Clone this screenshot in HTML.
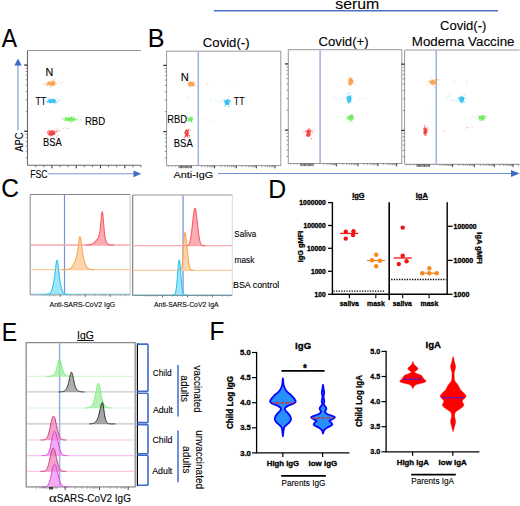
<!DOCTYPE html>
<html><head><meta charset="utf-8"><style>
html,body{margin:0;padding:0;background:#fff;width:520px;height:506px;overflow:hidden}
svg{display:block;font-family:"Liberation Sans", sans-serif}
text{stroke:#000;stroke-width:0.1px}
text[font-weight="bold"]{stroke-width:0.3px}
</style></head><body>
<svg width="520" height="506" viewBox="0 0 520 506">
<rect width="520" height="506" fill="#fff"/>
<text x="1.69" y="46.80" font-size="26" textLength="15.30" lengthAdjust="spacingAndGlyphs" fill="#000" >A</text>
<line x1="27.5" y1="50.5" x2="141" y2="50.5" stroke="#9a9a9a" stroke-width="1" />
<line x1="27.5" y1="50.5" x2="27.5" y2="165.3" stroke="#6a6a6a" stroke-width="1.1" />
<line x1="27.5" y1="165.3" x2="141" y2="165.3" stroke="#6a6a6a" stroke-width="1.1" />
<line x1="24.2" y1="65.1" x2="27.5" y2="65.1" stroke="#333" stroke-width="1.3" />
<line x1="24.2" y1="131.3" x2="27.5" y2="131.3" stroke="#333" stroke-width="1.3" />
<line x1="25.7" y1="111.37" x2="27.5" y2="111.37" stroke="#666" stroke-width="0.7" />
<line x1="25.7" y1="99.71" x2="27.5" y2="99.71" stroke="#666" stroke-width="0.7" />
<line x1="25.7" y1="91.44" x2="27.5" y2="91.44" stroke="#666" stroke-width="0.7" />
<line x1="25.7" y1="85.03" x2="27.5" y2="85.03" stroke="#666" stroke-width="0.7" />
<line x1="25.7" y1="79.79" x2="27.5" y2="79.79" stroke="#666" stroke-width="0.7" />
<line x1="25.7" y1="75.35" x2="27.5" y2="75.35" stroke="#666" stroke-width="0.7" />
<line x1="25.7" y1="71.52" x2="27.5" y2="71.52" stroke="#666" stroke-width="0.7" />
<line x1="25.7" y1="68.13" x2="27.5" y2="68.13" stroke="#666" stroke-width="0.7" />
<line x1="25.7" y1="157.64" x2="27.5" y2="157.64" stroke="#666" stroke-width="0.7" />
<line x1="25.7" y1="151.23" x2="27.5" y2="151.23" stroke="#666" stroke-width="0.7" />
<line x1="25.7" y1="145.99" x2="27.5" y2="145.99" stroke="#666" stroke-width="0.7" />
<line x1="25.7" y1="141.55" x2="27.5" y2="141.55" stroke="#666" stroke-width="0.7" />
<line x1="25.7" y1="137.72" x2="27.5" y2="137.72" stroke="#666" stroke-width="0.7" />
<line x1="25.7" y1="134.33" x2="27.5" y2="134.33" stroke="#666" stroke-width="0.7" />
<line x1="35.7" y1="165.3" x2="35.7" y2="167.3" stroke="#555" stroke-width="0.8" />
<line x1="43.8" y1="165.3" x2="43.8" y2="167.3" stroke="#555" stroke-width="0.8" />
<line x1="51.9" y1="165.3" x2="51.9" y2="168.3" stroke="#333" stroke-width="1" />
<line x1="60" y1="165.3" x2="60" y2="167.3" stroke="#555" stroke-width="0.8" />
<line x1="68.1" y1="165.3" x2="68.1" y2="167.3" stroke="#555" stroke-width="0.8" />
<line x1="76.2" y1="165.3" x2="76.2" y2="168.3" stroke="#333" stroke-width="1" />
<line x1="84.3" y1="165.3" x2="84.3" y2="167.3" stroke="#555" stroke-width="0.8" />
<line x1="92.4" y1="165.3" x2="92.4" y2="167.3" stroke="#555" stroke-width="0.8" />
<line x1="100.5" y1="165.3" x2="100.5" y2="168.3" stroke="#333" stroke-width="1" />
<line x1="108.6" y1="165.3" x2="108.6" y2="167.3" stroke="#555" stroke-width="0.8" />
<line x1="116.7" y1="165.3" x2="116.7" y2="167.3" stroke="#555" stroke-width="0.8" />
<line x1="124.8" y1="165.3" x2="124.8" y2="168.3" stroke="#333" stroke-width="1" />
<line x1="132.9" y1="165.3" x2="132.9" y2="167.3" stroke="#555" stroke-width="0.8" />
<line x1="141" y1="165.3" x2="141" y2="167.3" stroke="#555" stroke-width="0.8" />
<line x1="18" y1="130.2" x2="18" y2="64" stroke="#a4b8e6" stroke-width="1.6" />
<path d="M14.4 65.5 L18 58.4 L21.6 65.5 Z" fill="#3f6bc6"/>
<text x="23.40" y="151.77" font-size="10.4" textLength="19.26" lengthAdjust="spacingAndGlyphs" transform="rotate(-90 23.40 151.77)" fill="#000" >APC</text>
<text x="30.13" y="178.00" font-size="10.4" textLength="17.34" lengthAdjust="spacingAndGlyphs" fill="#000" >FSC</text>
<line x1="47.8" y1="173.8" x2="135" y2="173.8" stroke="#7a98d8" stroke-width="1.1" />
<path d="M133.5 170.4 L141.2 173.8 L133.5 177.2 Z" fill="#3f6bc6"/>
<text x="45.56" y="76.40" font-size="10" textLength="7.77" lengthAdjust="spacingAndGlyphs" fill="#000" >N</text>
<text x="35.45" y="104.80" font-size="10" textLength="10.71" lengthAdjust="spacingAndGlyphs" fill="#000" >TT</text>
<text x="84.96" y="124.90" font-size="10.2" textLength="20.24" lengthAdjust="spacingAndGlyphs" fill="#000" >RBD</text>
<text x="43.08" y="145.50" font-size="10.2" textLength="18.68" lengthAdjust="spacingAndGlyphs" fill="#000" >BSA</text>
<path d="M58.0 80.5h0.9v0.9h-0.9zM59.5 83.5h0.9v0.9h-0.9zM62.0 82.0h0.9v0.9h-0.9zM55.5 79.0h0.9v0.9h-0.9zM45.0 83.5h0.9v0.9h-0.9z" fill="#f7963a" opacity="0.5"/>
<ellipse cx="51.6" cy="83.5" rx="3.64" ry="2.10" fill="#f7963a" opacity="0.7"/>
<path d="M51.7 85.4h1v1h-1zM51.2 83.5h1v1h-1zM51.2 83.7h1v1h-1zM53.0 83.7h1v1h-1zM54.2 84.1h1v1h-1zM52.6 83.7h1v1h-1zM46.3 83.2h1v1h-1zM48.0 81.5h1v1h-1zM50.7 82.7h1v1h-1zM47.2 82.7h1v1h-1zM52.7 82.8h1v1h-1zM54.5 84.2h1v1h-1zM48.4 81.8h1v1h-1zM53.7 82.4h1v1h-1zM45.9 85.6h1v1h-1zM53.0 83.0h1v1h-1zM43.6 83.8h1v1h-1zM46.9 83.7h1v1h-1zM51.0 83.7h1v1h-1zM47.3 81.6h1v1h-1zM47.9 83.3h1v1h-1zM48.0 84.3h1v1h-1zM52.5 80.8h1v1h-1zM48.3 81.7h1v1h-1zM51.9 81.7h1v1h-1zM51.8 84.5h1v1h-1zM50.3 82.4h1v1h-1zM51.6 84.2h1v1h-1zM50.0 84.2h1v1h-1zM47.1 83.5h1v1h-1zM52.1 82.3h1v1h-1zM55.6 82.9h1v1h-1zM54.7 81.2h1v1h-1zM48.6 81.2h1v1h-1zM52.8 82.6h1v1h-1zM53.8 81.6h1v1h-1zM53.1 81.6h1v1h-1zM49.2 82.3h1v1h-1zM53.3 80.5h1v1h-1zM51.7 85.0h1v1h-1zM49.9 86.5h1v1h-1zM50.6 80.5h1v1h-1zM49.8 83.4h1v1h-1zM49.7 85.2h1v1h-1zM48.8 81.0h1v1h-1zM46.4 83.8h1v1h-1zM53.4 82.0h1v1h-1zM54.2 83.9h1v1h-1zM54.7 81.5h1v1h-1zM52.7 79.6h1v1h-1zM52.9 85.3h1v1h-1zM46.9 84.4h1v1h-1zM47.7 82.0h1v1h-1z" fill="#f7963a" opacity="0.75"/>
<path d="M46.0 97.0h0.9v0.9h-0.9zM56.5 97.5h0.9v0.9h-0.9zM55.5 104.0h0.9v0.9h-0.9zM48.5 98.0h0.9v0.9h-0.9z" fill="#22b8f4" opacity="0.5"/>
<ellipse cx="51.6" cy="101" rx="3.64" ry="1.96" fill="#22b8f4" opacity="0.7"/>
<path d="M51.9 101.1h1v1h-1zM54.9 101.7h1v1h-1zM53.4 100.9h1v1h-1zM52.1 100.4h1v1h-1zM53.1 100.5h1v1h-1zM52.9 100.0h1v1h-1zM49.1 101.4h1v1h-1zM52.7 100.2h1v1h-1zM49.2 102.4h1v1h-1zM50.4 102.1h1v1h-1zM53.1 99.5h1v1h-1zM49.3 98.6h1v1h-1zM54.4 102.4h1v1h-1zM53.2 100.1h1v1h-1zM50.6 99.3h1v1h-1zM50.3 101.2h1v1h-1zM49.3 102.3h1v1h-1zM50.1 100.7h1v1h-1zM53.2 100.9h1v1h-1zM47.5 100.3h1v1h-1zM54.4 99.1h1v1h-1zM46.6 101.2h1v1h-1zM52.4 101.3h1v1h-1zM55.1 99.9h1v1h-1zM50.9 98.8h1v1h-1zM50.8 101.6h1v1h-1zM48.9 99.7h1v1h-1zM47.4 100.2h1v1h-1zM47.3 102.1h1v1h-1zM56.5 102.3h1v1h-1zM53.2 101.7h1v1h-1zM53.3 99.7h1v1h-1zM54.8 102.1h1v1h-1zM47.2 101.0h1v1h-1zM53.3 102.2h1v1h-1zM50.7 99.5h1v1h-1zM58.6 100.0h1v1h-1zM54.0 99.5h1v1h-1zM52.7 99.4h1v1h-1zM50.5 100.8h1v1h-1zM50.4 100.5h1v1h-1zM55.6 101.5h1v1h-1zM49.5 102.0h1v1h-1zM47.6 100.6h1v1h-1zM53.3 98.6h1v1h-1zM44.4 100.7h1v1h-1zM48.3 100.6h1v1h-1zM53.4 101.2h1v1h-1zM54.5 100.8h1v1h-1zM49.9 102.3h1v1h-1z" fill="#22b8f4" opacity="0.75"/>
<path d="M61.0 117.5h0.9v0.9h-0.9zM78.0 116.5h0.9v0.9h-0.9zM78.5 120.0h0.9v0.9h-0.9zM68.5 115.0h0.9v0.9h-0.9z" fill="#5ee64a" opacity="0.5"/>
<ellipse cx="70.4" cy="119.1" rx="5.32" ry="1.68" fill="#5ee64a" opacity="0.7"/>
<path d="M71.9 121.0h1v1h-1zM64.8 118.4h1v1h-1zM70.4 118.6h1v1h-1zM80.3 119.2h1v1h-1zM68.5 120.0h1v1h-1zM69.8 119.5h1v1h-1zM70.5 118.2h1v1h-1zM72.7 118.1h1v1h-1zM64.5 118.3h1v1h-1zM73.6 117.8h1v1h-1zM65.4 119.1h1v1h-1zM74.7 120.2h1v1h-1zM65.5 117.4h1v1h-1zM68.3 119.7h1v1h-1zM75.0 119.9h1v1h-1zM70.1 117.5h1v1h-1zM70.3 118.3h1v1h-1zM68.6 118.7h1v1h-1zM65.6 119.2h1v1h-1zM62.2 118.1h1v1h-1zM71.7 117.9h1v1h-1zM73.1 116.1h1v1h-1zM67.2 120.5h1v1h-1zM64.6 117.4h1v1h-1zM69.8 119.2h1v1h-1zM63.7 119.7h1v1h-1zM68.5 119.4h1v1h-1zM65.6 119.4h1v1h-1zM71.8 118.5h1v1h-1zM73.6 118.6h1v1h-1zM70.5 119.0h1v1h-1zM63.2 118.8h1v1h-1zM70.9 117.0h1v1h-1zM65.6 120.2h1v1h-1zM71.5 118.4h1v1h-1zM76.4 118.4h1v1h-1zM67.8 119.9h1v1h-1zM68.9 119.1h1v1h-1zM72.8 120.2h1v1h-1zM69.2 119.7h1v1h-1zM65.5 117.1h1v1h-1zM74.3 119.5h1v1h-1zM67.1 117.7h1v1h-1zM70.0 120.8h1v1h-1zM69.4 121.4h1v1h-1zM71.2 116.3h1v1h-1zM72.7 119.8h1v1h-1zM64.6 119.7h1v1h-1zM67.6 118.5h1v1h-1zM67.8 119.2h1v1h-1zM71.0 121.6h1v1h-1zM66.8 120.2h1v1h-1zM70.4 118.1h1v1h-1zM66.0 117.1h1v1h-1zM70.8 118.6h1v1h-1zM69.7 117.6h1v1h-1zM68.1 116.8h1v1h-1zM75.8 118.8h1v1h-1zM76.6 118.9h1v1h-1zM65.2 116.9h1v1h-1zM71.3 119.8h1v1h-1zM69.5 117.1h1v1h-1zM71.5 116.6h1v1h-1z" fill="#5ee64a" opacity="0.75"/>
<path d="M56.5 128.6h0.9v0.9h-0.9zM58.5 129.6h0.9v0.9h-0.9zM62.5 128.1h0.9v0.9h-0.9zM65.5 127.5h0.9v0.9h-0.9zM67.5 128.1h0.9v0.9h-0.9zM59.5 130.6h0.9v0.9h-0.9zM56.0 136.6h0.9v0.9h-0.9zM57.5 135.1h0.9v0.9h-0.9z" fill="#f02c2c" opacity="0.5"/>
<ellipse cx="51.9" cy="133" rx="3.36" ry="2.38" fill="#f02c2c" opacity="0.7"/>
<path d="M48.7 133.5h1v1h-1zM50.2 131.1h1v1h-1zM49.5 132.0h1v1h-1zM51.3 132.8h1v1h-1zM53.7 131.8h1v1h-1zM51.4 131.9h1v1h-1zM52.3 132.3h1v1h-1zM48.8 133.4h1v1h-1zM51.5 134.7h1v1h-1zM50.9 130.5h1v1h-1zM52.8 130.3h1v1h-1zM52.5 132.2h1v1h-1zM47.3 132.7h1v1h-1zM50.9 133.6h1v1h-1zM49.2 133.0h1v1h-1zM53.9 132.7h1v1h-1zM55.3 131.6h1v1h-1zM54.0 133.3h1v1h-1zM49.3 133.7h1v1h-1zM52.2 133.4h1v1h-1zM52.1 133.8h1v1h-1zM55.9 130.6h1v1h-1zM47.4 131.0h1v1h-1zM52.5 129.9h1v1h-1zM53.0 132.8h1v1h-1zM49.4 134.0h1v1h-1zM50.0 134.1h1v1h-1zM52.5 132.9h1v1h-1zM48.3 130.4h1v1h-1zM50.7 130.9h1v1h-1zM48.9 134.4h1v1h-1zM50.0 134.5h1v1h-1zM53.7 131.6h1v1h-1zM52.0 132.4h1v1h-1zM50.1 135.4h1v1h-1zM48.8 133.5h1v1h-1zM49.6 134.0h1v1h-1zM51.1 133.5h1v1h-1zM53.5 131.6h1v1h-1zM53.3 132.9h1v1h-1zM56.6 131.0h1v1h-1zM54.2 131.2h1v1h-1zM50.5 135.3h1v1h-1zM51.4 134.2h1v1h-1zM50.2 131.8h1v1h-1zM48.6 132.9h1v1h-1zM46.8 131.6h1v1h-1zM48.5 134.2h1v1h-1zM51.3 132.9h1v1h-1zM51.8 132.9h1v1h-1zM48.8 129.9h1v1h-1zM51.8 134.4h1v1h-1zM47.6 134.0h1v1h-1zM54.5 133.8h1v1h-1zM53.6 133.5h1v1h-1zM48.9 134.2h1v1h-1z" fill="#f02c2c" opacity="0.75"/>
<text x="147.87" y="46.80" font-size="26" textLength="16.78" lengthAdjust="spacingAndGlyphs" fill="#000" >B</text>
<line x1="213.8" y1="10.8" x2="498" y2="10.8" stroke="#4a72c4" stroke-width="1.4" />
<text x="335.21" y="9.20" font-size="15.2" textLength="44.08" lengthAdjust="spacingAndGlyphs" fill="#000" >serum</text>
<rect x="166.6" y="51.2" width="114.20000000000002" height="114.39999999999999" fill="none" stroke="#9a9a9a" stroke-width="1" />
<line x1="198.3" y1="51.7" x2="198.3" y2="165.1" stroke="#9cb2e2" stroke-width="1.5" />
<line x1="163.3" y1="65.4" x2="166.6" y2="65.4" stroke="#333" stroke-width="1.3" />
<line x1="163.3" y1="131.6" x2="166.6" y2="131.6" stroke="#333" stroke-width="1.3" />
<line x1="164.8" y1="111.67" x2="166.6" y2="111.67" stroke="#666" stroke-width="0.7" />
<line x1="164.8" y1="100.01" x2="166.6" y2="100.01" stroke="#666" stroke-width="0.7" />
<line x1="164.8" y1="91.74" x2="166.6" y2="91.74" stroke="#666" stroke-width="0.7" />
<line x1="164.8" y1="85.33" x2="166.6" y2="85.33" stroke="#666" stroke-width="0.7" />
<line x1="164.8" y1="80.09" x2="166.6" y2="80.09" stroke="#666" stroke-width="0.7" />
<line x1="164.8" y1="75.65" x2="166.6" y2="75.65" stroke="#666" stroke-width="0.7" />
<line x1="164.8" y1="71.82" x2="166.6" y2="71.82" stroke="#666" stroke-width="0.7" />
<line x1="164.8" y1="68.43" x2="166.6" y2="68.43" stroke="#666" stroke-width="0.7" />
<line x1="164.8" y1="157.94" x2="166.6" y2="157.94" stroke="#666" stroke-width="0.7" />
<line x1="164.8" y1="151.53" x2="166.6" y2="151.53" stroke="#666" stroke-width="0.7" />
<line x1="164.8" y1="146.29" x2="166.6" y2="146.29" stroke="#666" stroke-width="0.7" />
<line x1="164.8" y1="141.85" x2="166.6" y2="141.85" stroke="#666" stroke-width="0.7" />
<line x1="164.8" y1="138.02" x2="166.6" y2="138.02" stroke="#666" stroke-width="0.7" />
<line x1="164.8" y1="134.63" x2="166.6" y2="134.63" stroke="#666" stroke-width="0.7" />
<line x1="168.6" y1="165.6" x2="168.6" y2="167.2" stroke="#999" stroke-width="0.6" />
<line x1="172.1" y1="165.6" x2="172.1" y2="167.2" stroke="#999" stroke-width="0.6" />
<line x1="175.6" y1="165.6" x2="175.6" y2="167.2" stroke="#999" stroke-width="0.6" />
<line x1="179" y1="165.6" x2="179" y2="168.2" stroke="#222" stroke-width="0.7" />
<line x1="180.25" y1="165.6" x2="180.25" y2="168.2" stroke="#222" stroke-width="0.7" />
<line x1="181.5" y1="165.6" x2="181.5" y2="168.2" stroke="#222" stroke-width="0.7" />
<line x1="182.75" y1="165.6" x2="182.75" y2="168.2" stroke="#222" stroke-width="0.7" />
<line x1="184" y1="165.6" x2="184" y2="168.2" stroke="#222" stroke-width="0.7" />
<line x1="185.25" y1="165.6" x2="185.25" y2="168.2" stroke="#222" stroke-width="0.7" />
<line x1="186.5" y1="165.6" x2="186.5" y2="168.2" stroke="#222" stroke-width="0.7" />
<line x1="187.75" y1="165.6" x2="187.75" y2="168.2" stroke="#222" stroke-width="0.7" />
<line x1="189" y1="165.6" x2="189" y2="168.2" stroke="#222" stroke-width="0.7" />
<line x1="190.25" y1="165.6" x2="190.25" y2="168.2" stroke="#222" stroke-width="0.7" />
<line x1="191.5" y1="165.6" x2="191.5" y2="168.2" stroke="#222" stroke-width="0.7" />
<line x1="214.6" y1="165.6" x2="214.6" y2="168.4" stroke="#222" stroke-width="0.9" />
<line x1="236.3" y1="165.6" x2="236.3" y2="168.4" stroke="#222" stroke-width="0.9" />
<line x1="256.3" y1="165.6" x2="256.3" y2="168.4" stroke="#222" stroke-width="0.9" />
<line x1="275" y1="165.6" x2="275" y2="168.4" stroke="#222" stroke-width="0.9" />
<line x1="202.02" y1="165.6" x2="202.02" y2="167.3" stroke="#666" stroke-width="0.6" />
<line x1="205.19" y1="165.6" x2="205.19" y2="167.3" stroke="#666" stroke-width="0.6" />
<line x1="207.44" y1="165.6" x2="207.44" y2="167.3" stroke="#666" stroke-width="0.6" />
<line x1="209.18" y1="165.6" x2="209.18" y2="167.3" stroke="#666" stroke-width="0.6" />
<line x1="210.61" y1="165.6" x2="210.61" y2="167.3" stroke="#666" stroke-width="0.6" />
<line x1="211.81" y1="165.6" x2="211.81" y2="167.3" stroke="#666" stroke-width="0.6" />
<line x1="212.86" y1="165.6" x2="212.86" y2="167.3" stroke="#666" stroke-width="0.6" />
<line x1="213.78" y1="165.6" x2="213.78" y2="167.3" stroke="#666" stroke-width="0.6" />
<line x1="221.13" y1="165.6" x2="221.13" y2="167.3" stroke="#666" stroke-width="0.6" />
<line x1="224.95" y1="165.6" x2="224.95" y2="167.3" stroke="#666" stroke-width="0.6" />
<line x1="227.66" y1="165.6" x2="227.66" y2="167.3" stroke="#666" stroke-width="0.6" />
<line x1="229.77" y1="165.6" x2="229.77" y2="167.3" stroke="#666" stroke-width="0.6" />
<line x1="231.49" y1="165.6" x2="231.49" y2="167.3" stroke="#666" stroke-width="0.6" />
<line x1="232.94" y1="165.6" x2="232.94" y2="167.3" stroke="#666" stroke-width="0.6" />
<line x1="234.2" y1="165.6" x2="234.2" y2="167.3" stroke="#666" stroke-width="0.6" />
<line x1="235.31" y1="165.6" x2="235.31" y2="167.3" stroke="#666" stroke-width="0.6" />
<line x1="242.32" y1="165.6" x2="242.32" y2="167.3" stroke="#666" stroke-width="0.6" />
<line x1="245.84" y1="165.6" x2="245.84" y2="167.3" stroke="#666" stroke-width="0.6" />
<line x1="248.34" y1="165.6" x2="248.34" y2="167.3" stroke="#666" stroke-width="0.6" />
<line x1="250.28" y1="165.6" x2="250.28" y2="167.3" stroke="#666" stroke-width="0.6" />
<line x1="251.86" y1="165.6" x2="251.86" y2="167.3" stroke="#666" stroke-width="0.6" />
<line x1="253.2" y1="165.6" x2="253.2" y2="167.3" stroke="#666" stroke-width="0.6" />
<line x1="254.36" y1="165.6" x2="254.36" y2="167.3" stroke="#666" stroke-width="0.6" />
<line x1="255.38" y1="165.6" x2="255.38" y2="167.3" stroke="#666" stroke-width="0.6" />
<line x1="261.93" y1="165.6" x2="261.93" y2="167.3" stroke="#666" stroke-width="0.6" />
<line x1="265.22" y1="165.6" x2="265.22" y2="167.3" stroke="#666" stroke-width="0.6" />
<line x1="267.56" y1="165.6" x2="267.56" y2="167.3" stroke="#666" stroke-width="0.6" />
<line x1="269.37" y1="165.6" x2="269.37" y2="167.3" stroke="#666" stroke-width="0.6" />
<line x1="270.85" y1="165.6" x2="270.85" y2="167.3" stroke="#666" stroke-width="0.6" />
<line x1="272.1" y1="165.6" x2="272.1" y2="167.3" stroke="#666" stroke-width="0.6" />
<line x1="273.19" y1="165.6" x2="273.19" y2="167.3" stroke="#666" stroke-width="0.6" />
<line x1="274.14" y1="165.6" x2="274.14" y2="167.3" stroke="#666" stroke-width="0.6" />
<rect x="288.3" y="49.7" width="113.5" height="113.8" fill="none" stroke="#9a9a9a" stroke-width="1" />
<line x1="320.1" y1="50.2" x2="320.1" y2="163" stroke="#9cb2e2" stroke-width="1.5" />
<line x1="285" y1="63.9" x2="288.3" y2="63.9" stroke="#333" stroke-width="1.3" />
<line x1="285" y1="130.1" x2="288.3" y2="130.1" stroke="#333" stroke-width="1.3" />
<line x1="286.5" y1="110.17" x2="288.3" y2="110.17" stroke="#666" stroke-width="0.7" />
<line x1="286.5" y1="98.51" x2="288.3" y2="98.51" stroke="#666" stroke-width="0.7" />
<line x1="286.5" y1="90.24" x2="288.3" y2="90.24" stroke="#666" stroke-width="0.7" />
<line x1="286.5" y1="83.83" x2="288.3" y2="83.83" stroke="#666" stroke-width="0.7" />
<line x1="286.5" y1="78.59" x2="288.3" y2="78.59" stroke="#666" stroke-width="0.7" />
<line x1="286.5" y1="74.15" x2="288.3" y2="74.15" stroke="#666" stroke-width="0.7" />
<line x1="286.5" y1="70.32" x2="288.3" y2="70.32" stroke="#666" stroke-width="0.7" />
<line x1="286.5" y1="66.93" x2="288.3" y2="66.93" stroke="#666" stroke-width="0.7" />
<line x1="286.5" y1="156.44" x2="288.3" y2="156.44" stroke="#666" stroke-width="0.7" />
<line x1="286.5" y1="150.03" x2="288.3" y2="150.03" stroke="#666" stroke-width="0.7" />
<line x1="286.5" y1="144.79" x2="288.3" y2="144.79" stroke="#666" stroke-width="0.7" />
<line x1="286.5" y1="140.35" x2="288.3" y2="140.35" stroke="#666" stroke-width="0.7" />
<line x1="286.5" y1="136.52" x2="288.3" y2="136.52" stroke="#666" stroke-width="0.7" />
<line x1="286.5" y1="133.13" x2="288.3" y2="133.13" stroke="#666" stroke-width="0.7" />
<line x1="290.3" y1="163.5" x2="290.3" y2="165.1" stroke="#999" stroke-width="0.6" />
<line x1="293.8" y1="163.5" x2="293.8" y2="165.1" stroke="#999" stroke-width="0.6" />
<line x1="297.3" y1="163.5" x2="297.3" y2="165.1" stroke="#999" stroke-width="0.6" />
<line x1="300.7" y1="163.5" x2="300.7" y2="166.1" stroke="#222" stroke-width="0.7" />
<line x1="301.95" y1="163.5" x2="301.95" y2="166.1" stroke="#222" stroke-width="0.7" />
<line x1="303.2" y1="163.5" x2="303.2" y2="166.1" stroke="#222" stroke-width="0.7" />
<line x1="304.45" y1="163.5" x2="304.45" y2="166.1" stroke="#222" stroke-width="0.7" />
<line x1="305.7" y1="163.5" x2="305.7" y2="166.1" stroke="#222" stroke-width="0.7" />
<line x1="306.95" y1="163.5" x2="306.95" y2="166.1" stroke="#222" stroke-width="0.7" />
<line x1="308.2" y1="163.5" x2="308.2" y2="166.1" stroke="#222" stroke-width="0.7" />
<line x1="309.45" y1="163.5" x2="309.45" y2="166.1" stroke="#222" stroke-width="0.7" />
<line x1="310.7" y1="163.5" x2="310.7" y2="166.1" stroke="#222" stroke-width="0.7" />
<line x1="311.95" y1="163.5" x2="311.95" y2="166.1" stroke="#222" stroke-width="0.7" />
<line x1="313.2" y1="163.5" x2="313.2" y2="166.1" stroke="#222" stroke-width="0.7" />
<line x1="336.3" y1="163.5" x2="336.3" y2="166.3" stroke="#222" stroke-width="0.9" />
<line x1="358" y1="163.5" x2="358" y2="166.3" stroke="#222" stroke-width="0.9" />
<line x1="378" y1="163.5" x2="378" y2="166.3" stroke="#222" stroke-width="0.9" />
<line x1="396.7" y1="163.5" x2="396.7" y2="166.3" stroke="#222" stroke-width="0.9" />
<line x1="323.72" y1="163.5" x2="323.72" y2="165.2" stroke="#666" stroke-width="0.6" />
<line x1="326.89" y1="163.5" x2="326.89" y2="165.2" stroke="#666" stroke-width="0.6" />
<line x1="329.14" y1="163.5" x2="329.14" y2="165.2" stroke="#666" stroke-width="0.6" />
<line x1="330.88" y1="163.5" x2="330.88" y2="165.2" stroke="#666" stroke-width="0.6" />
<line x1="332.31" y1="163.5" x2="332.31" y2="165.2" stroke="#666" stroke-width="0.6" />
<line x1="333.51" y1="163.5" x2="333.51" y2="165.2" stroke="#666" stroke-width="0.6" />
<line x1="334.56" y1="163.5" x2="334.56" y2="165.2" stroke="#666" stroke-width="0.6" />
<line x1="335.48" y1="163.5" x2="335.48" y2="165.2" stroke="#666" stroke-width="0.6" />
<line x1="342.83" y1="163.5" x2="342.83" y2="165.2" stroke="#666" stroke-width="0.6" />
<line x1="346.65" y1="163.5" x2="346.65" y2="165.2" stroke="#666" stroke-width="0.6" />
<line x1="349.36" y1="163.5" x2="349.36" y2="165.2" stroke="#666" stroke-width="0.6" />
<line x1="351.47" y1="163.5" x2="351.47" y2="165.2" stroke="#666" stroke-width="0.6" />
<line x1="353.19" y1="163.5" x2="353.19" y2="165.2" stroke="#666" stroke-width="0.6" />
<line x1="354.64" y1="163.5" x2="354.64" y2="165.2" stroke="#666" stroke-width="0.6" />
<line x1="355.9" y1="163.5" x2="355.9" y2="165.2" stroke="#666" stroke-width="0.6" />
<line x1="357.01" y1="163.5" x2="357.01" y2="165.2" stroke="#666" stroke-width="0.6" />
<line x1="364.02" y1="163.5" x2="364.02" y2="165.2" stroke="#666" stroke-width="0.6" />
<line x1="367.54" y1="163.5" x2="367.54" y2="165.2" stroke="#666" stroke-width="0.6" />
<line x1="370.04" y1="163.5" x2="370.04" y2="165.2" stroke="#666" stroke-width="0.6" />
<line x1="371.98" y1="163.5" x2="371.98" y2="165.2" stroke="#666" stroke-width="0.6" />
<line x1="373.56" y1="163.5" x2="373.56" y2="165.2" stroke="#666" stroke-width="0.6" />
<line x1="374.9" y1="163.5" x2="374.9" y2="165.2" stroke="#666" stroke-width="0.6" />
<line x1="376.06" y1="163.5" x2="376.06" y2="165.2" stroke="#666" stroke-width="0.6" />
<line x1="377.08" y1="163.5" x2="377.08" y2="165.2" stroke="#666" stroke-width="0.6" />
<line x1="383.63" y1="163.5" x2="383.63" y2="165.2" stroke="#666" stroke-width="0.6" />
<line x1="386.92" y1="163.5" x2="386.92" y2="165.2" stroke="#666" stroke-width="0.6" />
<line x1="389.26" y1="163.5" x2="389.26" y2="165.2" stroke="#666" stroke-width="0.6" />
<line x1="391.07" y1="163.5" x2="391.07" y2="165.2" stroke="#666" stroke-width="0.6" />
<line x1="392.55" y1="163.5" x2="392.55" y2="165.2" stroke="#666" stroke-width="0.6" />
<line x1="393.8" y1="163.5" x2="393.8" y2="165.2" stroke="#666" stroke-width="0.6" />
<line x1="394.89" y1="163.5" x2="394.89" y2="165.2" stroke="#666" stroke-width="0.6" />
<line x1="395.84" y1="163.5" x2="395.84" y2="165.2" stroke="#666" stroke-width="0.6" />
<line x1="404.6" y1="50" x2="519.5" y2="50" stroke="#9a9a9a" stroke-width="1" />
<line x1="404.6" y1="50" x2="404.6" y2="164.3" stroke="#9a9a9a" stroke-width="1" />
<line x1="404.6" y1="164.3" x2="519.5" y2="164.3" stroke="#888" stroke-width="1" />
<line x1="436.2" y1="50.5" x2="436.2" y2="163.8" stroke="#9cb2e2" stroke-width="1.5" />
<line x1="401.3" y1="64.2" x2="404.6" y2="64.2" stroke="#333" stroke-width="1.3" />
<line x1="401.3" y1="130.4" x2="404.6" y2="130.4" stroke="#333" stroke-width="1.3" />
<line x1="402.8" y1="110.47" x2="404.6" y2="110.47" stroke="#666" stroke-width="0.7" />
<line x1="402.8" y1="98.81" x2="404.6" y2="98.81" stroke="#666" stroke-width="0.7" />
<line x1="402.8" y1="90.54" x2="404.6" y2="90.54" stroke="#666" stroke-width="0.7" />
<line x1="402.8" y1="84.13" x2="404.6" y2="84.13" stroke="#666" stroke-width="0.7" />
<line x1="402.8" y1="78.89" x2="404.6" y2="78.89" stroke="#666" stroke-width="0.7" />
<line x1="402.8" y1="74.45" x2="404.6" y2="74.45" stroke="#666" stroke-width="0.7" />
<line x1="402.8" y1="70.62" x2="404.6" y2="70.62" stroke="#666" stroke-width="0.7" />
<line x1="402.8" y1="67.23" x2="404.6" y2="67.23" stroke="#666" stroke-width="0.7" />
<line x1="402.8" y1="156.74" x2="404.6" y2="156.74" stroke="#666" stroke-width="0.7" />
<line x1="402.8" y1="150.33" x2="404.6" y2="150.33" stroke="#666" stroke-width="0.7" />
<line x1="402.8" y1="145.09" x2="404.6" y2="145.09" stroke="#666" stroke-width="0.7" />
<line x1="402.8" y1="140.65" x2="404.6" y2="140.65" stroke="#666" stroke-width="0.7" />
<line x1="402.8" y1="136.82" x2="404.6" y2="136.82" stroke="#666" stroke-width="0.7" />
<line x1="402.8" y1="133.43" x2="404.6" y2="133.43" stroke="#666" stroke-width="0.7" />
<line x1="406.6" y1="164.3" x2="406.6" y2="165.9" stroke="#999" stroke-width="0.6" />
<line x1="410.1" y1="164.3" x2="410.1" y2="165.9" stroke="#999" stroke-width="0.6" />
<line x1="413.6" y1="164.3" x2="413.6" y2="165.9" stroke="#999" stroke-width="0.6" />
<line x1="417" y1="164.3" x2="417" y2="166.9" stroke="#222" stroke-width="0.7" />
<line x1="418.25" y1="164.3" x2="418.25" y2="166.9" stroke="#222" stroke-width="0.7" />
<line x1="419.5" y1="164.3" x2="419.5" y2="166.9" stroke="#222" stroke-width="0.7" />
<line x1="420.75" y1="164.3" x2="420.75" y2="166.9" stroke="#222" stroke-width="0.7" />
<line x1="422" y1="164.3" x2="422" y2="166.9" stroke="#222" stroke-width="0.7" />
<line x1="423.25" y1="164.3" x2="423.25" y2="166.9" stroke="#222" stroke-width="0.7" />
<line x1="424.5" y1="164.3" x2="424.5" y2="166.9" stroke="#222" stroke-width="0.7" />
<line x1="425.75" y1="164.3" x2="425.75" y2="166.9" stroke="#222" stroke-width="0.7" />
<line x1="427" y1="164.3" x2="427" y2="166.9" stroke="#222" stroke-width="0.7" />
<line x1="428.25" y1="164.3" x2="428.25" y2="166.9" stroke="#222" stroke-width="0.7" />
<line x1="429.5" y1="164.3" x2="429.5" y2="166.9" stroke="#222" stroke-width="0.7" />
<line x1="452.6" y1="164.3" x2="452.6" y2="167.1" stroke="#222" stroke-width="0.9" />
<line x1="474.3" y1="164.3" x2="474.3" y2="167.1" stroke="#222" stroke-width="0.9" />
<line x1="494.3" y1="164.3" x2="494.3" y2="167.1" stroke="#222" stroke-width="0.9" />
<line x1="513" y1="164.3" x2="513" y2="167.1" stroke="#222" stroke-width="0.9" />
<line x1="440.02" y1="164.3" x2="440.02" y2="166" stroke="#666" stroke-width="0.6" />
<line x1="443.19" y1="164.3" x2="443.19" y2="166" stroke="#666" stroke-width="0.6" />
<line x1="445.44" y1="164.3" x2="445.44" y2="166" stroke="#666" stroke-width="0.6" />
<line x1="447.18" y1="164.3" x2="447.18" y2="166" stroke="#666" stroke-width="0.6" />
<line x1="448.61" y1="164.3" x2="448.61" y2="166" stroke="#666" stroke-width="0.6" />
<line x1="449.81" y1="164.3" x2="449.81" y2="166" stroke="#666" stroke-width="0.6" />
<line x1="450.86" y1="164.3" x2="450.86" y2="166" stroke="#666" stroke-width="0.6" />
<line x1="451.78" y1="164.3" x2="451.78" y2="166" stroke="#666" stroke-width="0.6" />
<line x1="459.13" y1="164.3" x2="459.13" y2="166" stroke="#666" stroke-width="0.6" />
<line x1="462.95" y1="164.3" x2="462.95" y2="166" stroke="#666" stroke-width="0.6" />
<line x1="465.66" y1="164.3" x2="465.66" y2="166" stroke="#666" stroke-width="0.6" />
<line x1="467.77" y1="164.3" x2="467.77" y2="166" stroke="#666" stroke-width="0.6" />
<line x1="469.49" y1="164.3" x2="469.49" y2="166" stroke="#666" stroke-width="0.6" />
<line x1="470.94" y1="164.3" x2="470.94" y2="166" stroke="#666" stroke-width="0.6" />
<line x1="472.2" y1="164.3" x2="472.2" y2="166" stroke="#666" stroke-width="0.6" />
<line x1="473.31" y1="164.3" x2="473.31" y2="166" stroke="#666" stroke-width="0.6" />
<line x1="480.32" y1="164.3" x2="480.32" y2="166" stroke="#666" stroke-width="0.6" />
<line x1="483.84" y1="164.3" x2="483.84" y2="166" stroke="#666" stroke-width="0.6" />
<line x1="486.34" y1="164.3" x2="486.34" y2="166" stroke="#666" stroke-width="0.6" />
<line x1="488.28" y1="164.3" x2="488.28" y2="166" stroke="#666" stroke-width="0.6" />
<line x1="489.86" y1="164.3" x2="489.86" y2="166" stroke="#666" stroke-width="0.6" />
<line x1="491.2" y1="164.3" x2="491.2" y2="166" stroke="#666" stroke-width="0.6" />
<line x1="492.36" y1="164.3" x2="492.36" y2="166" stroke="#666" stroke-width="0.6" />
<line x1="493.38" y1="164.3" x2="493.38" y2="166" stroke="#666" stroke-width="0.6" />
<line x1="499.93" y1="164.3" x2="499.93" y2="166" stroke="#666" stroke-width="0.6" />
<line x1="503.22" y1="164.3" x2="503.22" y2="166" stroke="#666" stroke-width="0.6" />
<line x1="505.56" y1="164.3" x2="505.56" y2="166" stroke="#666" stroke-width="0.6" />
<line x1="507.37" y1="164.3" x2="507.37" y2="166" stroke="#666" stroke-width="0.6" />
<line x1="508.85" y1="164.3" x2="508.85" y2="166" stroke="#666" stroke-width="0.6" />
<line x1="510.1" y1="164.3" x2="510.1" y2="166" stroke="#666" stroke-width="0.6" />
<line x1="511.19" y1="164.3" x2="511.19" y2="166" stroke="#666" stroke-width="0.6" />
<line x1="512.14" y1="164.3" x2="512.14" y2="166" stroke="#666" stroke-width="0.6" />
<line x1="518.6" y1="164.3" x2="518.6" y2="166" stroke="#666" stroke-width="0.6" />
<text x="202.89" y="47.20" font-size="12" textLength="46.65" lengthAdjust="spacingAndGlyphs" fill="#000" >Covid(-)</text>
<text x="318.59" y="46.20" font-size="12" textLength="49.97" lengthAdjust="spacingAndGlyphs" fill="#000" >Covid(+)</text>
<text x="440.00" y="29.50" font-size="12" textLength="46.34" lengthAdjust="spacingAndGlyphs" fill="#000" >Covid(-)</text>
<text x="411.85" y="46.20" font-size="12" textLength="102.67" lengthAdjust="spacingAndGlyphs" fill="#000" >Moderna Vaccine</text>
<text x="173.42" y="178.00" font-size="9.6" textLength="39.95" lengthAdjust="spacingAndGlyphs" fill="#000" >Anti-IgG</text>
<line x1="218" y1="173.5" x2="512" y2="173.5" stroke="#6f8fd0" stroke-width="1.1" />
<path d="M511 169.9 L519.6 173.5 L511 177.1 Z" fill="#3f6bc6"/>
<path d="M195.1 81.5h0.9v0.9h-0.9zM195.6 85.5h0.9v0.9h-0.9zM206.6 83.5h0.9v0.9h-0.9zM207.6 83.0h0.9v0.9h-0.9zM231.6 85.0h0.9v0.9h-0.9zM186.6 80.5h0.9v0.9h-0.9z" fill="#f7963a" opacity="0.5"/>
<ellipse cx="191.1" cy="84.2" rx="2.69" ry="2.09" fill="#f7963a" opacity="0.7"/>
<path d="M192.5 83.1h1v1h-1zM194.0 84.7h1v1h-1zM190.9 85.0h1v1h-1zM192.4 82.9h1v1h-1zM188.6 81.0h1v1h-1zM192.7 80.9h1v1h-1zM189.0 82.2h1v1h-1zM191.3 82.2h1v1h-1zM188.0 85.1h1v1h-1zM189.7 84.4h1v1h-1zM190.1 82.5h1v1h-1zM192.2 84.2h1v1h-1zM191.7 85.3h1v1h-1zM187.4 83.5h1v1h-1zM188.5 82.2h1v1h-1zM189.4 83.1h1v1h-1zM189.0 81.8h1v1h-1zM189.6 85.5h1v1h-1zM189.0 83.9h1v1h-1zM192.2 83.0h1v1h-1zM193.9 83.6h1v1h-1zM192.8 83.0h1v1h-1zM190.7 82.4h1v1h-1zM189.8 82.7h1v1h-1zM190.4 83.0h1v1h-1zM190.0 81.6h1v1h-1zM188.1 82.7h1v1h-1zM193.3 83.8h1v1h-1zM192.2 83.6h1v1h-1zM188.1 85.2h1v1h-1zM192.9 85.7h1v1h-1zM192.0 84.3h1v1h-1zM192.5 84.7h1v1h-1zM193.9 84.2h1v1h-1zM189.4 86.3h1v1h-1zM193.0 82.0h1v1h-1zM190.8 81.8h1v1h-1zM189.9 85.0h1v1h-1zM189.2 83.5h1v1h-1z" fill="#f7963a" opacity="0.75"/>
<path d="M220.6 100.5h0.9v0.9h-0.9zM218.6 102.0h0.9v0.9h-0.9zM215.6 100.5h0.9v0.9h-0.9zM211.1 99.0h0.9v0.9h-0.9zM188.6 96.5h0.9v0.9h-0.9zM228.6 96.0h0.9v0.9h-0.9zM230.6 103.5h0.9v0.9h-0.9z" fill="#22b8f4" opacity="0.5"/>
<ellipse cx="227.2" cy="102" rx="2.52" ry="2.58" fill="#22b8f4" opacity="0.7"/>
<path d="M224.9 103.8h1v1h-1zM226.0 101.2h1v1h-1zM228.0 99.0h1v1h-1zM225.9 103.0h1v1h-1zM227.1 101.2h1v1h-1zM224.7 102.3h1v1h-1zM225.9 101.8h1v1h-1zM225.6 100.7h1v1h-1zM226.6 102.8h1v1h-1zM224.5 105.6h1v1h-1zM228.2 100.3h1v1h-1zM227.6 102.1h1v1h-1zM227.9 103.0h1v1h-1zM226.0 103.9h1v1h-1zM223.9 99.6h1v1h-1zM224.1 100.8h1v1h-1zM229.6 101.0h1v1h-1zM227.7 103.4h1v1h-1zM225.4 102.6h1v1h-1zM223.4 100.8h1v1h-1zM230.0 101.1h1v1h-1zM226.4 101.3h1v1h-1zM225.6 102.6h1v1h-1zM225.9 101.6h1v1h-1zM227.9 99.1h1v1h-1zM228.5 104.3h1v1h-1zM225.7 101.5h1v1h-1zM226.8 103.0h1v1h-1zM228.2 105.9h1v1h-1zM227.0 102.3h1v1h-1zM227.2 102.9h1v1h-1zM229.6 100.5h1v1h-1zM227.0 101.9h1v1h-1zM225.1 104.4h1v1h-1zM227.8 99.1h1v1h-1zM228.9 100.0h1v1h-1zM226.8 104.0h1v1h-1zM227.6 103.7h1v1h-1zM227.8 100.2h1v1h-1zM226.6 99.6h1v1h-1zM224.6 101.3h1v1h-1zM225.9 102.0h1v1h-1zM226.8 99.8h1v1h-1zM225.6 102.5h1v1h-1zM227.9 99.0h1v1h-1z" fill="#22b8f4" opacity="0.75"/>
<path d="M202.6 118.5h0.9v0.9h-0.9zM212.6 120.5h0.9v0.9h-0.9zM187.6 115.5h0.9v0.9h-0.9zM192.6 122.5h0.9v0.9h-0.9z" fill="#5ee64a" opacity="0.5"/>
<ellipse cx="190.5" cy="119.5" rx="2.18" ry="1.93" fill="#5ee64a" opacity="0.7"/>
<path d="M188.5 118.0h1v1h-1zM190.7 120.0h1v1h-1zM190.0 117.3h1v1h-1zM191.7 116.6h1v1h-1zM189.6 119.3h1v1h-1zM188.0 118.7h1v1h-1zM192.4 118.1h1v1h-1zM191.3 121.1h1v1h-1zM187.8 117.6h1v1h-1zM190.6 116.7h1v1h-1zM189.7 119.0h1v1h-1zM187.3 120.0h1v1h-1zM188.5 118.0h1v1h-1zM191.0 120.9h1v1h-1zM191.8 117.5h1v1h-1zM186.8 117.7h1v1h-1zM191.7 117.0h1v1h-1zM188.5 117.9h1v1h-1zM191.9 118.5h1v1h-1zM190.5 116.6h1v1h-1zM192.4 118.0h1v1h-1zM189.8 117.5h1v1h-1zM188.2 120.8h1v1h-1zM189.8 117.3h1v1h-1zM191.1 119.0h1v1h-1zM191.2 121.8h1v1h-1zM187.7 120.2h1v1h-1zM191.3 117.1h1v1h-1zM191.6 118.4h1v1h-1zM188.4 118.0h1v1h-1z" fill="#5ee64a" opacity="0.75"/>
<path d="M189.1 128.6h0.9v0.9h-0.9zM190.1 130.1h0.9v0.9h-0.9zM184.1 137.1h0.9v0.9h-0.9z" fill="#f02c2c" opacity="0.5"/>
<ellipse cx="186.9" cy="133" rx="1.68" ry="3.54" fill="#f02c2c" opacity="0.7"/>
<path d="M186.7 134.1h1v1h-1zM187.2 135.3h1v1h-1zM187.1 136.2h1v1h-1zM185.2 130.6h1v1h-1zM185.9 130.6h1v1h-1zM189.4 136.6h1v1h-1zM186.5 132.8h1v1h-1zM186.9 130.4h1v1h-1zM185.4 135.0h1v1h-1zM185.4 133.0h1v1h-1zM184.3 132.1h1v1h-1zM184.2 136.6h1v1h-1zM184.9 133.0h1v1h-1zM185.2 135.5h1v1h-1zM184.9 132.2h1v1h-1zM185.8 129.5h1v1h-1zM187.4 136.6h1v1h-1zM186.9 130.0h1v1h-1zM187.6 135.3h1v1h-1zM186.5 135.6h1v1h-1zM186.8 132.5h1v1h-1zM186.8 134.6h1v1h-1zM188.1 129.4h1v1h-1zM184.2 132.5h1v1h-1zM186.1 130.2h1v1h-1zM188.9 135.1h1v1h-1zM186.6 135.3h1v1h-1zM184.8 130.7h1v1h-1zM185.6 133.7h1v1h-1zM185.3 133.4h1v1h-1zM187.9 129.3h1v1h-1zM184.8 134.3h1v1h-1zM186.5 131.6h1v1h-1zM185.8 129.8h1v1h-1zM187.8 133.3h1v1h-1zM187.1 132.4h1v1h-1zM185.2 136.3h1v1h-1zM185.9 130.6h1v1h-1zM187.5 129.9h1v1h-1zM186.6 130.0h1v1h-1zM188.4 131.2h1v1h-1z" fill="#f02c2c" opacity="0.75"/>
<text x="180.83" y="80.60" font-size="10" textLength="8.03" lengthAdjust="spacingAndGlyphs" fill="#000" >N</text>
<text x="233.85" y="105.20" font-size="10" textLength="10.71" lengthAdjust="spacingAndGlyphs" fill="#000" >TT</text>
<text x="167.28" y="123.10" font-size="10.2" textLength="19.81" lengthAdjust="spacingAndGlyphs" fill="#000" >RBD</text>
<text x="173.77" y="146.60" font-size="10.2" textLength="18.99" lengthAdjust="spacingAndGlyphs" fill="#000" >BSA</text>
<path d="M347.4 84.9h0.9v0.9h-0.9zM352.3 77.4h0.9v0.9h-0.9zM348.6 82.2h0.9v0.9h-0.9zM342.4 79.8h0.9v0.9h-0.9zM353.9 84.0h0.9v0.9h-0.9z" fill="#f7963a" opacity="0.5"/>
<ellipse cx="350.8" cy="81.5" rx="2.18" ry="2.90" fill="#f7963a" opacity="0.7"/>
<path d="M352.6 80.7h1v1h-1zM352.3 80.1h1v1h-1zM350.6 83.0h1v1h-1zM350.6 78.4h1v1h-1zM348.6 80.7h1v1h-1zM350.0 84.9h1v1h-1zM351.0 79.9h1v1h-1zM347.8 82.5h1v1h-1zM348.4 79.1h1v1h-1zM352.8 82.7h1v1h-1zM349.5 78.3h1v1h-1zM348.5 83.9h1v1h-1zM350.6 80.8h1v1h-1zM349.6 77.7h1v1h-1zM349.0 84.3h1v1h-1zM347.7 80.2h1v1h-1zM350.9 77.3h1v1h-1zM349.8 81.3h1v1h-1zM351.5 79.1h1v1h-1zM349.8 79.9h1v1h-1zM349.0 82.7h1v1h-1zM349.6 83.9h1v1h-1zM349.1 79.8h1v1h-1zM351.1 81.5h1v1h-1zM351.7 80.7h1v1h-1zM351.3 80.3h1v1h-1zM348.3 76.3h1v1h-1zM350.5 84.1h1v1h-1zM349.9 80.2h1v1h-1zM349.6 79.6h1v1h-1zM349.0 78.3h1v1h-1zM350.2 78.4h1v1h-1zM350.3 82.0h1v1h-1zM349.8 78.3h1v1h-1zM351.5 81.4h1v1h-1zM351.9 81.3h1v1h-1zM347.7 80.2h1v1h-1zM350.3 81.7h1v1h-1zM349.3 79.1h1v1h-1zM349.4 84.1h1v1h-1zM348.9 82.3h1v1h-1zM350.1 81.9h1v1h-1zM348.9 83.2h1v1h-1zM350.6 78.0h1v1h-1z" fill="#f7963a" opacity="0.75"/>
<path d="M333.6 97.0h0.9v0.9h-0.9zM336.6 98.5h0.9v0.9h-0.9zM340.6 98.0h0.9v0.9h-0.9zM359.6 98.5h0.9v0.9h-0.9zM363.6 97.5h0.9v0.9h-0.9z" fill="#22b8f4" opacity="0.5"/>
<ellipse cx="349.2" cy="99.2" rx="2.18" ry="2.90" fill="#22b8f4" opacity="0.7"/>
<path d="M347.3 99.9h1v1h-1zM348.0 101.9h1v1h-1zM346.5 98.8h1v1h-1zM347.9 102.5h1v1h-1zM346.9 96.6h1v1h-1zM348.7 98.8h1v1h-1zM348.1 96.6h1v1h-1zM349.6 99.1h1v1h-1zM345.8 97.2h1v1h-1zM347.9 100.4h1v1h-1zM347.7 101.9h1v1h-1zM347.1 93.5h1v1h-1zM349.9 101.3h1v1h-1zM349.1 97.7h1v1h-1zM350.2 99.0h1v1h-1zM347.2 97.3h1v1h-1zM348.8 95.8h1v1h-1zM349.9 95.7h1v1h-1zM350.3 98.5h1v1h-1zM348.7 101.0h1v1h-1zM350.0 96.7h1v1h-1zM348.0 100.4h1v1h-1zM350.4 95.3h1v1h-1zM348.2 100.3h1v1h-1zM350.1 95.3h1v1h-1zM348.0 100.0h1v1h-1zM349.2 102.2h1v1h-1zM350.4 101.2h1v1h-1zM349.5 97.9h1v1h-1zM349.2 98.7h1v1h-1zM349.1 99.1h1v1h-1zM346.4 97.4h1v1h-1zM349.0 98.6h1v1h-1zM347.6 101.1h1v1h-1zM348.4 100.8h1v1h-1zM349.1 92.6h1v1h-1zM349.9 99.1h1v1h-1zM349.3 99.8h1v1h-1zM351.3 96.7h1v1h-1zM346.4 97.3h1v1h-1zM349.1 95.9h1v1h-1zM348.5 100.2h1v1h-1zM347.9 96.8h1v1h-1zM347.6 95.4h1v1h-1z" fill="#22b8f4" opacity="0.75"/>
<path d="M329.6 117.5h0.9v0.9h-0.9zM336.6 116.5h0.9v0.9h-0.9zM340.6 116.0h0.9v0.9h-0.9zM365.6 116.5h0.9v0.9h-0.9zM309.6 111.5h0.9v0.9h-0.9z" fill="#5ee64a" opacity="0.5"/>
<ellipse cx="350.8" cy="117.5" rx="2.69" ry="2.25" fill="#5ee64a" opacity="0.7"/>
<path d="M350.2 120.0h1v1h-1zM353.0 116.9h1v1h-1zM352.5 116.4h1v1h-1zM350.7 118.0h1v1h-1zM349.5 120.9h1v1h-1zM352.5 116.9h1v1h-1zM350.1 116.0h1v1h-1zM347.2 116.1h1v1h-1zM349.4 118.9h1v1h-1zM346.7 117.2h1v1h-1zM351.2 114.3h1v1h-1zM352.5 119.0h1v1h-1zM351.2 116.9h1v1h-1zM347.7 118.5h1v1h-1zM350.9 115.3h1v1h-1zM349.3 118.0h1v1h-1zM348.4 118.8h1v1h-1zM348.7 119.5h1v1h-1zM347.3 116.0h1v1h-1zM351.1 119.7h1v1h-1zM351.6 115.0h1v1h-1zM347.7 116.1h1v1h-1zM346.7 117.0h1v1h-1zM349.0 117.2h1v1h-1zM351.5 120.3h1v1h-1zM352.2 114.6h1v1h-1zM345.6 118.8h1v1h-1zM349.6 118.3h1v1h-1zM348.6 118.1h1v1h-1zM349.7 118.0h1v1h-1zM351.3 116.3h1v1h-1zM351.0 119.3h1v1h-1zM352.1 115.1h1v1h-1zM350.8 114.6h1v1h-1zM349.5 115.3h1v1h-1zM348.6 117.8h1v1h-1zM351.0 117.4h1v1h-1zM346.9 117.8h1v1h-1zM351.0 117.6h1v1h-1zM351.6 118.6h1v1h-1zM350.2 115.5h1v1h-1zM352.3 116.9h1v1h-1z" fill="#5ee64a" opacity="0.75"/>
<path d="M311.6 127.5h0.9v0.9h-0.9zM313.6 129.6h0.9v0.9h-0.9zM312.6 133.1h0.9v0.9h-0.9z" fill="#f02c2c" opacity="0.5"/>
<ellipse cx="308.5" cy="132.7" rx="1.85" ry="3.54" fill="#f02c2c" opacity="0.7"/>
<path d="M310.9 138.0h1v1h-1zM306.7 135.5h1v1h-1zM310.4 130.3h1v1h-1zM303.6 131.6h1v1h-1zM309.9 134.2h1v1h-1zM309.5 131.8h1v1h-1zM309.8 129.3h1v1h-1zM308.7 128.1h1v1h-1zM309.4 132.1h1v1h-1zM309.5 135.6h1v1h-1zM305.1 130.4h1v1h-1zM308.8 134.3h1v1h-1zM305.7 130.7h1v1h-1zM308.3 131.1h1v1h-1zM307.4 135.6h1v1h-1zM308.4 131.6h1v1h-1zM308.5 135.8h1v1h-1zM307.9 130.5h1v1h-1zM307.8 132.4h1v1h-1zM307.1 133.4h1v1h-1zM308.5 134.1h1v1h-1zM306.1 134.1h1v1h-1zM310.2 133.3h1v1h-1zM309.0 134.5h1v1h-1zM307.0 131.3h1v1h-1zM308.7 131.5h1v1h-1zM306.7 133.8h1v1h-1zM310.2 130.7h1v1h-1zM308.2 135.7h1v1h-1zM309.9 130.1h1v1h-1zM307.3 129.6h1v1h-1zM306.3 135.0h1v1h-1zM307.5 132.5h1v1h-1zM306.9 131.6h1v1h-1zM307.4 136.1h1v1h-1zM308.0 134.9h1v1h-1zM310.0 129.8h1v1h-1zM307.2 135.3h1v1h-1zM306.5 130.4h1v1h-1zM307.3 131.0h1v1h-1zM307.4 130.1h1v1h-1zM308.3 132.0h1v1h-1zM306.7 132.7h1v1h-1zM307.1 133.8h1v1h-1zM311.7 130.9h1v1h-1zM305.9 135.3h1v1h-1z" fill="#f02c2c" opacity="0.75"/>
<path d="M426.6 84.5h0.9v0.9h-0.9zM428.6 83.5h0.9v0.9h-0.9zM438.6 79.5h0.9v0.9h-0.9zM454.6 80.5h0.9v0.9h-0.9zM466.6 80.5h0.9v0.9h-0.9zM465.6 83.5h0.9v0.9h-0.9z" fill="#f7963a" opacity="0.5"/>
<ellipse cx="433.2" cy="82.3" rx="3.02" ry="2.09" fill="#f7963a" opacity="0.7"/>
<path d="M430.3 76.6h1v1h-1zM432.4 81.2h1v1h-1zM434.1 86.4h1v1h-1zM431.6 79.8h1v1h-1zM434.7 79.4h1v1h-1zM433.9 82.5h1v1h-1zM432.6 84.7h1v1h-1zM432.9 81.0h1v1h-1zM428.8 81.0h1v1h-1zM433.0 79.6h1v1h-1zM431.8 83.6h1v1h-1zM433.3 79.7h1v1h-1zM432.8 80.6h1v1h-1zM432.7 83.4h1v1h-1zM430.4 81.5h1v1h-1zM432.4 83.8h1v1h-1zM435.6 79.8h1v1h-1zM430.4 81.6h1v1h-1zM436.5 78.8h1v1h-1zM435.3 83.1h1v1h-1zM434.2 83.4h1v1h-1zM429.5 80.7h1v1h-1zM430.0 79.4h1v1h-1zM432.0 79.4h1v1h-1zM431.3 81.7h1v1h-1zM436.9 79.3h1v1h-1zM432.7 84.1h1v1h-1zM431.1 83.2h1v1h-1zM431.6 81.4h1v1h-1zM431.5 81.4h1v1h-1zM429.1 82.0h1v1h-1zM431.9 80.2h1v1h-1zM431.6 80.7h1v1h-1zM430.5 83.2h1v1h-1zM428.7 81.3h1v1h-1zM435.7 81.9h1v1h-1zM430.7 83.4h1v1h-1zM431.1 82.4h1v1h-1zM431.2 81.8h1v1h-1zM429.4 80.4h1v1h-1zM435.1 81.4h1v1h-1zM431.2 82.5h1v1h-1zM438.3 84.1h1v1h-1zM431.8 83.0h1v1h-1z" fill="#f7963a" opacity="0.75"/>
<path d="M446.6 97.5h0.9v0.9h-0.9zM448.6 96.5h0.9v0.9h-0.9zM451.6 99.5h0.9v0.9h-0.9zM453.6 100.0h0.9v0.9h-0.9zM455.6 101.0h0.9v0.9h-0.9zM449.6 93.5h0.9v0.9h-0.9zM464.6 94.5h0.9v0.9h-0.9z" fill="#22b8f4" opacity="0.5"/>
<ellipse cx="461.6" cy="99.5" rx="2.35" ry="2.58" fill="#22b8f4" opacity="0.7"/>
<path d="M461.7 96.3h1v1h-1zM461.9 99.4h1v1h-1zM460.9 98.7h1v1h-1zM461.1 96.5h1v1h-1zM462.6 98.4h1v1h-1zM465.0 98.6h1v1h-1zM462.9 98.6h1v1h-1zM459.7 100.5h1v1h-1zM458.7 97.7h1v1h-1zM461.9 99.4h1v1h-1zM460.0 96.9h1v1h-1zM458.7 97.7h1v1h-1zM457.4 97.4h1v1h-1zM460.6 99.3h1v1h-1zM463.7 101.8h1v1h-1zM458.1 98.5h1v1h-1zM462.2 102.0h1v1h-1zM462.3 98.2h1v1h-1zM463.4 101.0h1v1h-1zM461.6 96.9h1v1h-1zM459.0 97.9h1v1h-1zM461.2 98.2h1v1h-1zM463.3 98.0h1v1h-1zM461.0 102.4h1v1h-1zM462.4 97.1h1v1h-1zM462.6 99.5h1v1h-1zM460.3 100.5h1v1h-1zM461.9 99.4h1v1h-1zM462.7 97.9h1v1h-1zM459.4 100.8h1v1h-1zM459.9 101.4h1v1h-1zM462.4 99.5h1v1h-1zM460.0 96.6h1v1h-1zM461.4 95.5h1v1h-1zM462.9 97.0h1v1h-1zM461.3 99.8h1v1h-1zM462.8 99.6h1v1h-1zM463.5 97.6h1v1h-1zM459.8 101.5h1v1h-1zM461.0 100.5h1v1h-1zM461.3 97.3h1v1h-1zM459.5 96.4h1v1h-1z" fill="#22b8f4" opacity="0.75"/>
<path d="M471.6 116.5h0.9v0.9h-0.9zM473.6 116.0h0.9v0.9h-0.9zM475.6 117.5h0.9v0.9h-0.9zM427.6 111.5h0.9v0.9h-0.9zM464.6 118.0h0.9v0.9h-0.9z" fill="#5ee64a" opacity="0.5"/>
<ellipse cx="481.9" cy="117.7" rx="2.86" ry="1.93" fill="#5ee64a" opacity="0.7"/>
<path d="M479.6 116.1h1v1h-1zM481.5 119.2h1v1h-1zM482.2 117.4h1v1h-1zM478.3 116.7h1v1h-1zM481.7 116.1h1v1h-1zM484.8 116.5h1v1h-1zM481.6 118.8h1v1h-1zM483.2 119.5h1v1h-1zM481.9 116.4h1v1h-1zM484.8 118.0h1v1h-1zM481.9 115.2h1v1h-1zM479.8 119.9h1v1h-1zM482.7 114.9h1v1h-1zM481.9 119.7h1v1h-1zM483.7 115.2h1v1h-1zM478.1 117.3h1v1h-1zM481.6 116.4h1v1h-1zM479.1 118.3h1v1h-1zM481.3 115.0h1v1h-1zM481.8 119.7h1v1h-1zM478.6 116.2h1v1h-1zM483.0 119.5h1v1h-1zM486.0 116.2h1v1h-1zM481.8 117.1h1v1h-1zM482.1 118.2h1v1h-1zM477.6 115.0h1v1h-1zM481.5 119.6h1v1h-1zM482.9 117.3h1v1h-1zM483.4 118.8h1v1h-1zM480.7 116.3h1v1h-1zM479.6 117.6h1v1h-1zM480.1 118.1h1v1h-1zM479.3 119.2h1v1h-1zM478.7 115.9h1v1h-1zM483.6 116.3h1v1h-1zM482.6 115.9h1v1h-1zM479.5 119.2h1v1h-1zM479.3 116.2h1v1h-1z" fill="#5ee64a" opacity="0.75"/>
<path d="M465.6 127.5h0.9v0.9h-0.9zM467.6 127.0h0.9v0.9h-0.9zM471.6 126.5h0.9v0.9h-0.9zM443.6 130.6h0.9v0.9h-0.9z" fill="#f02c2c" opacity="0.5"/>
<ellipse cx="425.3" cy="131.2" rx="1.68" ry="3.22" fill="#f02c2c" opacity="0.7"/>
<path d="M425.8 132.2h1v1h-1zM424.3 130.5h1v1h-1zM424.8 132.4h1v1h-1zM424.1 134.3h1v1h-1zM424.3 131.5h1v1h-1zM425.0 128.6h1v1h-1zM424.0 132.1h1v1h-1zM425.9 130.5h1v1h-1zM426.3 130.9h1v1h-1zM423.2 128.1h1v1h-1zM427.6 129.3h1v1h-1zM425.8 134.6h1v1h-1zM423.1 132.3h1v1h-1zM424.3 124.9h1v1h-1zM424.2 127.4h1v1h-1zM423.4 129.4h1v1h-1zM423.9 127.9h1v1h-1zM424.9 131.1h1v1h-1zM426.0 130.9h1v1h-1zM425.6 131.5h1v1h-1zM423.9 133.0h1v1h-1zM424.1 130.7h1v1h-1zM425.1 128.9h1v1h-1zM426.2 130.2h1v1h-1zM425.6 128.5h1v1h-1zM424.3 126.8h1v1h-1zM423.3 132.8h1v1h-1zM426.2 130.7h1v1h-1zM424.0 131.0h1v1h-1zM423.9 126.7h1v1h-1zM425.3 129.6h1v1h-1zM425.4 129.1h1v1h-1zM426.6 131.4h1v1h-1zM425.0 130.4h1v1h-1zM426.7 128.4h1v1h-1zM426.4 126.7h1v1h-1zM424.8 134.9h1v1h-1zM423.3 132.7h1v1h-1z" fill="#f02c2c" opacity="0.75"/>
<text x="1.13" y="197.40" font-size="25" textLength="17.63" lengthAdjust="spacingAndGlyphs" fill="#000" >C</text>
<line x1="30.2" y1="194.5" x2="130.2" y2="194.5" stroke="#8a8a8a" stroke-width="1.1" />
<line x1="30.2" y1="194.5" x2="30.2" y2="294.8" stroke="#8a8a8a" stroke-width="1" />
<line x1="130.2" y1="194.5" x2="130.2" y2="294.8" stroke="#c4c4c4" stroke-width="1" />
<line x1="30.2" y1="294.8" x2="130.2" y2="294.8" stroke="#777" stroke-width="1" />
<line x1="132.7" y1="195" x2="232.3" y2="195" stroke="#b8b8b8" stroke-width="1.6" />
<line x1="132.7" y1="195" x2="132.7" y2="295.4" stroke="#777" stroke-width="1.1" />
<line x1="232.3" y1="195" x2="232.3" y2="295.4" stroke="#dadada" stroke-width="1" />
<line x1="132.7" y1="295.4" x2="232.3" y2="295.4" stroke="#777" stroke-width="1" />
<line x1="64.5" y1="195" x2="64.5" y2="294.3" stroke="#7890d4" stroke-width="1.2" />
<line x1="183.1" y1="195.5" x2="183.1" y2="294.9" stroke="#8fa2dc" stroke-width="1.5" />
<path d="M86.00 245L86.00 244.99L86.28 244.99L86.56 244.99L86.84 244.98L87.12 244.98L87.40 244.97L87.68 244.96L87.96 244.95L88.24 244.94L88.52 244.92L88.80 244.90L89.08 244.87L89.36 244.84L89.64 244.80L89.92 244.76L90.20 244.70L90.48 244.64L90.76 244.56L91.04 244.48L91.32 244.38L91.60 244.27L91.88 244.14L92.16 244.00L92.44 243.84L92.72 243.67L93.00 243.49L93.28 243.29L93.56 243.08L93.84 242.86L94.12 242.62L94.40 242.38L94.68 242.12L94.96 241.85L95.24 241.58L95.52 241.29L95.80 240.99L96.08 240.69L96.36 240.36L96.64 240.02L96.92 239.67L97.20 239.28L97.48 238.88L97.76 238.44L98.04 237.96L98.32 237.43L98.60 236.83L98.88 236.13L99.16 235.27L99.44 234.18L99.72 232.79L100.00 231.02L100.28 228.79L100.56 226.11L100.84 223.07L101.12 219.85L101.40 216.75L101.68 214.14L101.96 212.36L102.24 211.69L102.52 212.26L102.80 214.02L103.08 216.74L103.36 220.08L103.64 223.67L103.92 227.18L104.20 230.37L104.48 233.11L104.76 235.35L105.04 237.14L105.32 238.56L105.60 239.68L105.88 240.59L106.16 241.33L106.44 241.95L106.72 242.49L107.00 242.94L107.28 243.33L107.56 243.66L107.84 243.93L108.12 244.16L108.40 244.35L108.68 244.50L108.96 244.62L109.24 244.71L109.52 244.79L109.80 244.84L110.08 244.89L110.36 244.92L110.64 244.94L110.92 244.96L111.20 244.97L111.48 244.98L111.76 244.99L112.04 244.99L112.32 244.99L112.60 245.00L112.88 245.00L113.16 245.00L113.44 245.00L113.72 245.00L114.00 245.00L114.00 245Z" fill="#fa9ea6" fill-opacity="0.85"/>
<path d="M62.00 269.6L62.00 269.60L62.32 269.60L62.64 269.60L62.96 269.60L63.28 269.59L63.60 269.59L63.92 269.59L64.24 269.59L64.56 269.58L64.88 269.57L65.20 269.57L65.52 269.56L65.84 269.54L66.16 269.53L66.48 269.50L66.80 269.48L67.12 269.45L67.44 269.41L67.76 269.36L68.08 269.30L68.40 269.23L68.72 269.14L69.04 269.04L69.36 268.91L69.68 268.77L70.00 268.60L70.32 268.41L70.64 268.18L70.96 267.92L71.28 267.63L71.60 267.30L71.92 266.93L72.24 266.52L72.56 266.06L72.88 265.56L73.20 265.02L73.52 264.43L73.84 263.80L74.16 263.13L74.48 262.41L74.80 261.66L75.12 260.86L75.44 260.01L75.76 259.09L76.08 258.08L76.40 256.93L76.72 255.60L77.04 254.06L77.36 252.25L77.68 250.17L78.00 247.84L78.32 245.36L78.64 242.86L78.96 240.53L79.28 238.59L79.60 237.24L79.92 236.63L80.24 236.84L80.56 237.88L80.88 239.63L81.20 241.90L81.52 244.47L81.84 247.14L82.16 249.73L82.48 252.11L82.80 254.24L83.12 256.08L83.44 257.68L83.76 259.06L84.08 260.26L84.40 261.33L84.72 262.29L85.04 263.16L85.36 263.96L85.68 264.69L86.00 265.36L86.32 265.96L86.64 266.50L86.96 266.98L87.28 267.40L87.60 267.77L87.92 268.09L88.24 268.36L88.56 268.59L88.88 268.79L89.20 268.95L89.52 269.08L89.84 269.19L90.16 269.28L90.48 269.35L90.80 269.41L91.12 269.46L91.44 269.49L91.76 269.52L92.08 269.54L92.40 269.55L92.72 269.57L93.04 269.58L93.36 269.58L93.68 269.59L94.00 269.59L94.00 269.6Z" fill="#fdcda0" fill-opacity="0.85"/>
<path d="M46.00 294.3L46.00 294.28L46.22 294.28L46.44 294.27L46.66 294.26L46.88 294.25L47.10 294.24L47.32 294.22L47.54 294.19L47.76 294.16L47.98 294.13L48.20 294.08L48.42 294.02L48.64 293.95L48.86 293.87L49.08 293.77L49.30 293.65L49.52 293.51L49.74 293.34L49.96 293.14L50.18 292.91L50.40 292.65L50.62 292.34L50.84 291.99L51.06 291.60L51.28 291.15L51.50 290.66L51.72 290.10L51.94 289.49L52.16 288.82L52.38 288.09L52.60 287.30L52.82 286.45L53.04 285.52L53.26 284.53L53.48 283.46L53.70 282.31L53.92 281.06L54.14 279.71L54.36 278.24L54.58 276.65L54.80 274.94L55.02 273.11L55.24 271.20L55.46 269.24L55.68 267.30L55.90 265.44L56.12 263.75L56.34 262.31L56.56 261.22L56.78 260.53L57.00 260.30L57.22 260.54L57.44 261.24L57.66 262.35L57.88 263.82L58.10 265.54L58.32 267.45L58.54 269.44L58.76 271.44L58.98 273.40L59.20 275.28L59.42 277.04L59.64 278.67L59.86 280.18L60.08 281.56L60.30 282.84L60.52 284.01L60.74 285.09L60.96 286.09L61.18 287.01L61.40 287.86L61.62 288.64L61.84 289.35L62.06 290.00L62.28 290.58L62.50 291.10L62.72 291.57L62.94 291.98L63.16 292.34L63.38 292.66L63.60 292.93L63.82 293.17L64.04 293.37L64.26 293.54L64.48 293.68L64.70 293.80L64.92 293.90L65.14 293.98L65.36 294.04L65.58 294.10L65.80 294.14L66.02 294.18L66.24 294.21L66.46 294.23L66.68 294.24L66.90 294.26L67.12 294.27L67.34 294.28L67.56 294.28L67.78 294.29L68.00 294.29L68.00 294.3Z" fill="#90e0f8" fill-opacity="0.85"/>
<path d="M186.00 245.7L186.00 245.67L186.19 245.66L186.38 245.64L186.57 245.62L186.76 245.60L186.95 245.57L187.14 245.52L187.33 245.47L187.52 245.41L187.71 245.33L187.90 245.23L188.09 245.11L188.28 244.96L188.47 244.78L188.66 244.56L188.85 244.30L189.04 243.99L189.23 243.62L189.42 243.19L189.61 242.70L189.80 242.12L189.99 241.47L190.18 240.72L190.37 239.88L190.56 238.94L190.75 237.90L190.94 236.76L191.13 235.51L191.32 234.16L191.51 232.71L191.70 231.17L191.89 229.55L192.08 227.86L192.27 226.12L192.46 224.34L192.65 222.54L192.84 220.76L193.03 219.00L193.22 217.29L193.41 215.67L193.60 214.15L193.79 212.76L193.98 211.53L194.17 210.47L194.36 209.61L194.55 208.95L194.74 208.52L194.93 208.32L195.12 208.35L195.31 208.61L195.50 209.10L195.69 209.81L195.88 210.73L196.07 211.84L196.26 213.11L196.45 214.54L196.64 216.09L196.83 217.73L197.02 219.46L197.21 221.22L197.40 223.02L197.59 224.81L197.78 226.58L197.97 228.31L198.16 229.98L198.35 231.58L198.54 233.10L198.73 234.52L198.92 235.85L199.11 237.07L199.30 238.19L199.49 239.20L199.68 240.11L199.87 240.93L200.06 241.65L200.25 242.28L200.44 242.83L200.63 243.31L200.82 243.72L201.01 244.07L201.20 244.37L201.39 244.62L201.58 244.83L201.77 245.00L201.96 245.14L202.15 245.26L202.34 245.35L202.53 245.43L202.72 245.49L202.91 245.54L203.10 245.57L203.29 245.60L203.48 245.63L203.67 245.65L203.86 245.66L204.05 245.67L204.24 245.68L204.43 245.68L204.62 245.69L204.81 245.69L205.00 245.69L205.00 245.7Z" fill="#fa9ea6" fill-opacity="0.85"/>
<path d="M179.00 270.3L179.00 270.29L179.15 270.29L179.30 270.29L179.45 270.28L179.60 270.27L179.75 270.26L179.90 270.24L180.05 270.21L180.20 270.17L180.35 270.11L180.50 270.03L180.65 269.92L180.80 269.78L180.95 269.59L181.10 269.35L181.25 269.04L181.40 268.64L181.55 268.14L181.70 267.53L181.85 266.78L182.00 265.88L182.15 264.81L182.30 263.56L182.45 262.13L182.60 260.50L182.75 258.68L182.90 256.68L183.05 254.51L183.20 252.22L183.35 249.82L183.50 247.37L183.65 244.93L183.80 242.54L183.95 240.27L184.10 238.19L184.25 236.36L184.40 234.84L184.55 233.66L184.70 232.88L184.85 232.52L185.00 232.54L185.15 232.77L185.30 233.18L185.45 233.77L185.60 234.54L185.75 235.47L185.90 236.55L186.05 237.76L186.20 239.09L186.35 240.52L186.50 242.02L186.65 243.59L186.80 245.20L186.95 246.83L187.10 248.46L187.25 250.09L187.40 251.69L187.55 253.25L187.70 254.76L187.85 256.21L188.00 257.59L188.15 258.89L188.30 260.11L188.45 261.24L188.60 262.29L188.75 263.26L188.90 264.14L189.05 264.94L189.20 265.65L189.35 266.30L189.50 266.87L189.65 267.37L189.80 267.82L189.95 268.20L190.10 268.54L190.25 268.83L190.40 269.08L190.55 269.29L190.70 269.47L190.85 269.62L191.00 269.74L191.15 269.85L191.30 269.94L191.45 270.01L191.60 270.07L191.75 270.12L191.90 270.15L192.05 270.19L192.20 270.21L192.35 270.23L192.50 270.25L192.65 270.26L192.80 270.27L192.95 270.28L193.10 270.28L193.25 270.29L193.40 270.29L193.55 270.29L193.70 270.29L193.85 270.30L194.00 270.30L194.00 270.3Z" fill="#fdcda0" fill-opacity="0.85"/>
<path d="M173.00 294.9L173.00 294.88L173.13 294.87L173.26 294.86L173.39 294.85L173.52 294.84L173.65 294.82L173.78 294.79L173.91 294.75L174.04 294.71L174.17 294.65L174.30 294.58L174.43 294.49L174.56 294.38L174.69 294.24L174.82 294.08L174.95 293.88L175.08 293.64L175.21 293.35L175.34 293.00L175.47 292.60L175.60 292.13L175.73 291.59L175.86 290.96L175.99 290.25L176.12 289.44L176.25 288.54L176.38 287.54L176.51 286.43L176.64 285.22L176.77 283.92L176.90 282.52L177.03 281.03L177.16 279.46L177.29 277.83L177.42 276.16L177.55 274.45L177.68 272.74L177.81 271.04L177.94 269.38L178.07 267.78L178.20 266.27L178.33 264.88L178.46 263.63L178.59 262.54L178.72 261.63L178.85 260.92L178.98 260.43L179.11 260.16L179.24 260.11L179.37 260.30L179.50 260.71L179.63 261.33L179.76 262.17L179.89 263.19L180.02 264.38L180.15 265.72L180.28 267.19L180.41 268.75L180.54 270.39L180.67 272.08L180.80 273.79L180.93 275.50L181.06 277.19L181.19 278.84L181.32 280.43L181.45 281.95L181.58 283.39L181.71 284.73L181.84 285.98L181.97 287.12L182.10 288.17L182.23 289.11L182.36 289.95L182.49 290.70L182.62 291.36L182.75 291.93L182.88 292.43L183.01 292.86L183.14 293.22L183.27 293.53L183.40 293.79L183.53 294.01L183.66 294.18L183.79 294.33L183.92 294.45L184.05 294.55L184.18 294.63L184.31 294.69L184.44 294.74L184.57 294.78L184.70 294.81L184.83 294.83L184.96 294.85L185.09 294.86L185.22 294.87L185.35 294.88L185.48 294.88L185.61 294.89L185.74 294.89L185.87 294.89L186.00 294.90L186.00 294.9Z" fill="#90e0f8" fill-opacity="0.85"/>
<line x1="30.7" y1="245" x2="129.7" y2="245" stroke="#f8a8ae" stroke-width="1.3" />
<line x1="30.7" y1="269.6" x2="129.7" y2="269.6" stroke="#fdcc9e" stroke-width="1.3" />
<line x1="30.7" y1="294.1" x2="129.7" y2="294.1" stroke="#7fd6f2" stroke-width="0.8" />
<line x1="133.2" y1="245.7" x2="231.8" y2="245.7" stroke="#f8a8ae" stroke-width="1.3" />
<line x1="133.2" y1="270.3" x2="231.8" y2="270.3" stroke="#fdcc9e" stroke-width="1.3" />
<line x1="133.2" y1="294.7" x2="231.8" y2="294.7" stroke="#7fd6f2" stroke-width="0.8" />
<path d="M86.00 245L86.00 244.99L86.28 244.99L86.56 244.99L86.84 244.98L87.12 244.98L87.40 244.97L87.68 244.96L87.96 244.95L88.24 244.94L88.52 244.92L88.80 244.90L89.08 244.87L89.36 244.84L89.64 244.80L89.92 244.76L90.20 244.70L90.48 244.64L90.76 244.56L91.04 244.48L91.32 244.38L91.60 244.27L91.88 244.14L92.16 244.00L92.44 243.84L92.72 243.67L93.00 243.49L93.28 243.29L93.56 243.08L93.84 242.86L94.12 242.62L94.40 242.38L94.68 242.12L94.96 241.85L95.24 241.58L95.52 241.29L95.80 240.99L96.08 240.69L96.36 240.36L96.64 240.02L96.92 239.67L97.20 239.28L97.48 238.88L97.76 238.44L98.04 237.96L98.32 237.43L98.60 236.83L98.88 236.13L99.16 235.27L99.44 234.18L99.72 232.79L100.00 231.02L100.28 228.79L100.56 226.11L100.84 223.07L101.12 219.85L101.40 216.75L101.68 214.14L101.96 212.36L102.24 211.69L102.52 212.26L102.80 214.02L103.08 216.74L103.36 220.08L103.64 223.67L103.92 227.18L104.20 230.37L104.48 233.11L104.76 235.35L105.04 237.14L105.32 238.56L105.60 239.68L105.88 240.59L106.16 241.33L106.44 241.95L106.72 242.49L107.00 242.94L107.28 243.33L107.56 243.66L107.84 243.93L108.12 244.16L108.40 244.35L108.68 244.50L108.96 244.62L109.24 244.71L109.52 244.79L109.80 244.84L110.08 244.89L110.36 244.92L110.64 244.94L110.92 244.96L111.20 244.97L111.48 244.98L111.76 244.99L112.04 244.99L112.32 244.99L112.60 245.00L112.88 245.00L113.16 245.00L113.44 245.00L113.72 245.00L114.00 245.00L114.00 245" fill="none" stroke="#f85a68" stroke-width="1.1" stroke-linejoin="round"/>
<path d="M62.00 269.6L62.00 269.60L62.32 269.60L62.64 269.60L62.96 269.60L63.28 269.59L63.60 269.59L63.92 269.59L64.24 269.59L64.56 269.58L64.88 269.57L65.20 269.57L65.52 269.56L65.84 269.54L66.16 269.53L66.48 269.50L66.80 269.48L67.12 269.45L67.44 269.41L67.76 269.36L68.08 269.30L68.40 269.23L68.72 269.14L69.04 269.04L69.36 268.91L69.68 268.77L70.00 268.60L70.32 268.41L70.64 268.18L70.96 267.92L71.28 267.63L71.60 267.30L71.92 266.93L72.24 266.52L72.56 266.06L72.88 265.56L73.20 265.02L73.52 264.43L73.84 263.80L74.16 263.13L74.48 262.41L74.80 261.66L75.12 260.86L75.44 260.01L75.76 259.09L76.08 258.08L76.40 256.93L76.72 255.60L77.04 254.06L77.36 252.25L77.68 250.17L78.00 247.84L78.32 245.36L78.64 242.86L78.96 240.53L79.28 238.59L79.60 237.24L79.92 236.63L80.24 236.84L80.56 237.88L80.88 239.63L81.20 241.90L81.52 244.47L81.84 247.14L82.16 249.73L82.48 252.11L82.80 254.24L83.12 256.08L83.44 257.68L83.76 259.06L84.08 260.26L84.40 261.33L84.72 262.29L85.04 263.16L85.36 263.96L85.68 264.69L86.00 265.36L86.32 265.96L86.64 266.50L86.96 266.98L87.28 267.40L87.60 267.77L87.92 268.09L88.24 268.36L88.56 268.59L88.88 268.79L89.20 268.95L89.52 269.08L89.84 269.19L90.16 269.28L90.48 269.35L90.80 269.41L91.12 269.46L91.44 269.49L91.76 269.52L92.08 269.54L92.40 269.55L92.72 269.57L93.04 269.58L93.36 269.58L93.68 269.59L94.00 269.59L94.00 269.6" fill="none" stroke="#f8a852" stroke-width="1.1" stroke-linejoin="round"/>
<path d="M46.00 294.3L46.00 294.28L46.22 294.28L46.44 294.27L46.66 294.26L46.88 294.25L47.10 294.24L47.32 294.22L47.54 294.19L47.76 294.16L47.98 294.13L48.20 294.08L48.42 294.02L48.64 293.95L48.86 293.87L49.08 293.77L49.30 293.65L49.52 293.51L49.74 293.34L49.96 293.14L50.18 292.91L50.40 292.65L50.62 292.34L50.84 291.99L51.06 291.60L51.28 291.15L51.50 290.66L51.72 290.10L51.94 289.49L52.16 288.82L52.38 288.09L52.60 287.30L52.82 286.45L53.04 285.52L53.26 284.53L53.48 283.46L53.70 282.31L53.92 281.06L54.14 279.71L54.36 278.24L54.58 276.65L54.80 274.94L55.02 273.11L55.24 271.20L55.46 269.24L55.68 267.30L55.90 265.44L56.12 263.75L56.34 262.31L56.56 261.22L56.78 260.53L57.00 260.30L57.22 260.54L57.44 261.24L57.66 262.35L57.88 263.82L58.10 265.54L58.32 267.45L58.54 269.44L58.76 271.44L58.98 273.40L59.20 275.28L59.42 277.04L59.64 278.67L59.86 280.18L60.08 281.56L60.30 282.84L60.52 284.01L60.74 285.09L60.96 286.09L61.18 287.01L61.40 287.86L61.62 288.64L61.84 289.35L62.06 290.00L62.28 290.58L62.50 291.10L62.72 291.57L62.94 291.98L63.16 292.34L63.38 292.66L63.60 292.93L63.82 293.17L64.04 293.37L64.26 293.54L64.48 293.68L64.70 293.80L64.92 293.90L65.14 293.98L65.36 294.04L65.58 294.10L65.80 294.14L66.02 294.18L66.24 294.21L66.46 294.23L66.68 294.24L66.90 294.26L67.12 294.27L67.34 294.28L67.56 294.28L67.78 294.29L68.00 294.29L68.00 294.3" fill="none" stroke="#2cc4f0" stroke-width="1.1" stroke-linejoin="round"/>
<path d="M186.00 245.7L186.00 245.67L186.19 245.66L186.38 245.64L186.57 245.62L186.76 245.60L186.95 245.57L187.14 245.52L187.33 245.47L187.52 245.41L187.71 245.33L187.90 245.23L188.09 245.11L188.28 244.96L188.47 244.78L188.66 244.56L188.85 244.30L189.04 243.99L189.23 243.62L189.42 243.19L189.61 242.70L189.80 242.12L189.99 241.47L190.18 240.72L190.37 239.88L190.56 238.94L190.75 237.90L190.94 236.76L191.13 235.51L191.32 234.16L191.51 232.71L191.70 231.17L191.89 229.55L192.08 227.86L192.27 226.12L192.46 224.34L192.65 222.54L192.84 220.76L193.03 219.00L193.22 217.29L193.41 215.67L193.60 214.15L193.79 212.76L193.98 211.53L194.17 210.47L194.36 209.61L194.55 208.95L194.74 208.52L194.93 208.32L195.12 208.35L195.31 208.61L195.50 209.10L195.69 209.81L195.88 210.73L196.07 211.84L196.26 213.11L196.45 214.54L196.64 216.09L196.83 217.73L197.02 219.46L197.21 221.22L197.40 223.02L197.59 224.81L197.78 226.58L197.97 228.31L198.16 229.98L198.35 231.58L198.54 233.10L198.73 234.52L198.92 235.85L199.11 237.07L199.30 238.19L199.49 239.20L199.68 240.11L199.87 240.93L200.06 241.65L200.25 242.28L200.44 242.83L200.63 243.31L200.82 243.72L201.01 244.07L201.20 244.37L201.39 244.62L201.58 244.83L201.77 245.00L201.96 245.14L202.15 245.26L202.34 245.35L202.53 245.43L202.72 245.49L202.91 245.54L203.10 245.57L203.29 245.60L203.48 245.63L203.67 245.65L203.86 245.66L204.05 245.67L204.24 245.68L204.43 245.68L204.62 245.69L204.81 245.69L205.00 245.69L205.00 245.7" fill="none" stroke="#f85a68" stroke-width="1.1" stroke-linejoin="round"/>
<path d="M179.00 270.3L179.00 270.29L179.15 270.29L179.30 270.29L179.45 270.28L179.60 270.27L179.75 270.26L179.90 270.24L180.05 270.21L180.20 270.17L180.35 270.11L180.50 270.03L180.65 269.92L180.80 269.78L180.95 269.59L181.10 269.35L181.25 269.04L181.40 268.64L181.55 268.14L181.70 267.53L181.85 266.78L182.00 265.88L182.15 264.81L182.30 263.56L182.45 262.13L182.60 260.50L182.75 258.68L182.90 256.68L183.05 254.51L183.20 252.22L183.35 249.82L183.50 247.37L183.65 244.93L183.80 242.54L183.95 240.27L184.10 238.19L184.25 236.36L184.40 234.84L184.55 233.66L184.70 232.88L184.85 232.52L185.00 232.54L185.15 232.77L185.30 233.18L185.45 233.77L185.60 234.54L185.75 235.47L185.90 236.55L186.05 237.76L186.20 239.09L186.35 240.52L186.50 242.02L186.65 243.59L186.80 245.20L186.95 246.83L187.10 248.46L187.25 250.09L187.40 251.69L187.55 253.25L187.70 254.76L187.85 256.21L188.00 257.59L188.15 258.89L188.30 260.11L188.45 261.24L188.60 262.29L188.75 263.26L188.90 264.14L189.05 264.94L189.20 265.65L189.35 266.30L189.50 266.87L189.65 267.37L189.80 267.82L189.95 268.20L190.10 268.54L190.25 268.83L190.40 269.08L190.55 269.29L190.70 269.47L190.85 269.62L191.00 269.74L191.15 269.85L191.30 269.94L191.45 270.01L191.60 270.07L191.75 270.12L191.90 270.15L192.05 270.19L192.20 270.21L192.35 270.23L192.50 270.25L192.65 270.26L192.80 270.27L192.95 270.28L193.10 270.28L193.25 270.29L193.40 270.29L193.55 270.29L193.70 270.29L193.85 270.30L194.00 270.30L194.00 270.3" fill="none" stroke="#f8a852" stroke-width="1.1" stroke-linejoin="round"/>
<path d="M173.00 294.9L173.00 294.88L173.13 294.87L173.26 294.86L173.39 294.85L173.52 294.84L173.65 294.82L173.78 294.79L173.91 294.75L174.04 294.71L174.17 294.65L174.30 294.58L174.43 294.49L174.56 294.38L174.69 294.24L174.82 294.08L174.95 293.88L175.08 293.64L175.21 293.35L175.34 293.00L175.47 292.60L175.60 292.13L175.73 291.59L175.86 290.96L175.99 290.25L176.12 289.44L176.25 288.54L176.38 287.54L176.51 286.43L176.64 285.22L176.77 283.92L176.90 282.52L177.03 281.03L177.16 279.46L177.29 277.83L177.42 276.16L177.55 274.45L177.68 272.74L177.81 271.04L177.94 269.38L178.07 267.78L178.20 266.27L178.33 264.88L178.46 263.63L178.59 262.54L178.72 261.63L178.85 260.92L178.98 260.43L179.11 260.16L179.24 260.11L179.37 260.30L179.50 260.71L179.63 261.33L179.76 262.17L179.89 263.19L180.02 264.38L180.15 265.72L180.28 267.19L180.41 268.75L180.54 270.39L180.67 272.08L180.80 273.79L180.93 275.50L181.06 277.19L181.19 278.84L181.32 280.43L181.45 281.95L181.58 283.39L181.71 284.73L181.84 285.98L181.97 287.12L182.10 288.17L182.23 289.11L182.36 289.95L182.49 290.70L182.62 291.36L182.75 291.93L182.88 292.43L183.01 292.86L183.14 293.22L183.27 293.53L183.40 293.79L183.53 294.01L183.66 294.18L183.79 294.33L183.92 294.45L184.05 294.55L184.18 294.63L184.31 294.69L184.44 294.74L184.57 294.78L184.70 294.81L184.83 294.83L184.96 294.85L185.09 294.86L185.22 294.87L185.35 294.88L185.48 294.88L185.61 294.89L185.74 294.89L185.87 294.89L186.00 294.90L186.00 294.9" fill="none" stroke="#2cc4f0" stroke-width="1.1" stroke-linejoin="round"/>
<line x1="60.2" y1="294.8" x2="60.2" y2="296.8" stroke="#444" stroke-width="0.8" />
<line x1="85.2" y1="294.8" x2="85.2" y2="296.8" stroke="#444" stroke-width="0.8" />
<line x1="110.2" y1="294.8" x2="110.2" y2="296.8" stroke="#444" stroke-width="0.8" />
<line x1="43.2" y1="294.8" x2="43.2" y2="296.3" stroke="#888" stroke-width="0.5" />
<line x1="46.2" y1="294.8" x2="46.2" y2="296.3" stroke="#888" stroke-width="0.5" />
<line x1="49.2" y1="294.8" x2="49.2" y2="296.3" stroke="#888" stroke-width="0.5" />
<line x1="51.2" y1="294.8" x2="51.2" y2="296.3" stroke="#888" stroke-width="0.5" />
<line x1="53.2" y1="294.8" x2="53.2" y2="296.3" stroke="#888" stroke-width="0.5" />
<line x1="55.2" y1="294.8" x2="55.2" y2="296.3" stroke="#888" stroke-width="0.5" />
<line x1="70.2" y1="294.8" x2="70.2" y2="296.3" stroke="#888" stroke-width="0.5" />
<line x1="75.2" y1="294.8" x2="75.2" y2="296.3" stroke="#888" stroke-width="0.5" />
<line x1="78.2" y1="294.8" x2="78.2" y2="296.3" stroke="#888" stroke-width="0.5" />
<line x1="80.2" y1="294.8" x2="80.2" y2="296.3" stroke="#888" stroke-width="0.5" />
<line x1="95.2" y1="294.8" x2="95.2" y2="296.3" stroke="#888" stroke-width="0.5" />
<line x1="100.2" y1="294.8" x2="100.2" y2="296.3" stroke="#888" stroke-width="0.5" />
<line x1="103.2" y1="294.8" x2="103.2" y2="296.3" stroke="#888" stroke-width="0.5" />
<line x1="105.2" y1="294.8" x2="105.2" y2="296.3" stroke="#888" stroke-width="0.5" />
<line x1="120.2" y1="294.8" x2="120.2" y2="296.3" stroke="#888" stroke-width="0.5" />
<line x1="125.2" y1="294.8" x2="125.2" y2="296.3" stroke="#888" stroke-width="0.5" />
<line x1="162.58" y1="295.4" x2="162.58" y2="297.4" stroke="#444" stroke-width="0.8" />
<line x1="187.48" y1="295.4" x2="187.48" y2="297.4" stroke="#444" stroke-width="0.8" />
<line x1="212.38" y1="295.4" x2="212.38" y2="297.4" stroke="#444" stroke-width="0.8" />
<line x1="145.65" y1="295.4" x2="145.65" y2="296.9" stroke="#888" stroke-width="0.5" />
<line x1="148.64" y1="295.4" x2="148.64" y2="296.9" stroke="#888" stroke-width="0.5" />
<line x1="151.62" y1="295.4" x2="151.62" y2="296.9" stroke="#888" stroke-width="0.5" />
<line x1="153.62" y1="295.4" x2="153.62" y2="296.9" stroke="#888" stroke-width="0.5" />
<line x1="155.61" y1="295.4" x2="155.61" y2="296.9" stroke="#888" stroke-width="0.5" />
<line x1="157.6" y1="295.4" x2="157.6" y2="296.9" stroke="#888" stroke-width="0.5" />
<line x1="172.54" y1="295.4" x2="172.54" y2="296.9" stroke="#888" stroke-width="0.5" />
<line x1="177.52" y1="295.4" x2="177.52" y2="296.9" stroke="#888" stroke-width="0.5" />
<line x1="180.51" y1="295.4" x2="180.51" y2="296.9" stroke="#888" stroke-width="0.5" />
<line x1="182.5" y1="295.4" x2="182.5" y2="296.9" stroke="#888" stroke-width="0.5" />
<line x1="197.44" y1="295.4" x2="197.44" y2="296.9" stroke="#888" stroke-width="0.5" />
<line x1="202.42" y1="295.4" x2="202.42" y2="296.9" stroke="#888" stroke-width="0.5" />
<line x1="205.41" y1="295.4" x2="205.41" y2="296.9" stroke="#888" stroke-width="0.5" />
<line x1="207.4" y1="295.4" x2="207.4" y2="296.9" stroke="#888" stroke-width="0.5" />
<line x1="222.34" y1="295.4" x2="222.34" y2="296.9" stroke="#888" stroke-width="0.5" />
<line x1="227.32" y1="295.4" x2="227.32" y2="296.9" stroke="#888" stroke-width="0.5" />
<text x="49.53" y="306.60" font-size="7.2" textLength="65.74" lengthAdjust="spacingAndGlyphs" fill="#000" >Anti-SARS-CoV2 IgG</text>
<text x="154.03" y="306.60" font-size="7.2" textLength="64.54" lengthAdjust="spacingAndGlyphs" fill="#000" >Anti-SARS-CoV2 IgA</text>
<text x="234.29" y="236.70" font-size="8.7" textLength="21.95" lengthAdjust="spacingAndGlyphs" fill="#000" >Saliva</text>
<text x="234.49" y="262.70" font-size="8.7" textLength="19.85" lengthAdjust="spacingAndGlyphs" fill="#000" >mask</text>
<text x="233.02" y="287.90" font-size="8.7" textLength="46.33" lengthAdjust="spacingAndGlyphs" fill="#000" >BSA control</text>
<text x="268.20" y="197.50" font-size="25.5" textLength="17.92" lengthAdjust="spacingAndGlyphs" fill="#000" >D</text>
<line x1="332.4" y1="202.2" x2="332.4" y2="294.6" stroke="#000" stroke-width="1.4" />
<line x1="331.7" y1="294.3" x2="389" y2="294.3" stroke="#000" stroke-width="1.4" />
<line x1="389.2" y1="202.2" x2="389.2" y2="300" stroke="#000" stroke-width="1.6" />
<line x1="389" y1="294.3" x2="447.5" y2="294.3" stroke="#000" stroke-width="1.4" />
<line x1="447.2" y1="202.2" x2="447.2" y2="295" stroke="#000" stroke-width="1.4" />
<line x1="328" y1="202.6" x2="332.4" y2="202.6" stroke="#000" stroke-width="1.3" />
<text x="299.32" y="204.90" font-size="6.6" font-weight="bold" textLength="26.50" lengthAdjust="spacingAndGlyphs" fill="#000" >1000000</text>
<line x1="328" y1="225.5" x2="332.4" y2="225.5" stroke="#000" stroke-width="1.3" />
<text x="303.43" y="227.80" font-size="6.6" font-weight="bold" textLength="22.40" lengthAdjust="spacingAndGlyphs" fill="#000" >100000</text>
<line x1="328" y1="248.3" x2="332.4" y2="248.3" stroke="#000" stroke-width="1.3" />
<text x="307.13" y="250.60" font-size="6.6" font-weight="bold" textLength="18.69" lengthAdjust="spacingAndGlyphs" fill="#000" >10000</text>
<line x1="328" y1="271.3" x2="332.4" y2="271.3" stroke="#000" stroke-width="1.3" />
<text x="310.93" y="273.60" font-size="6.6" font-weight="bold" textLength="14.90" lengthAdjust="spacingAndGlyphs" fill="#000" >1000</text>
<line x1="328" y1="294.3" x2="332.4" y2="294.3" stroke="#000" stroke-width="1.3" />
<text x="314.63" y="296.60" font-size="6.6" font-weight="bold" textLength="11.19" lengthAdjust="spacingAndGlyphs" fill="#000" >100</text>
<line x1="447.2" y1="226.3" x2="452.6" y2="226.3" stroke="#000" stroke-width="1.3" />
<text x="453.62" y="228.60" font-size="6.6" font-weight="bold" textLength="23.02" lengthAdjust="spacingAndGlyphs" fill="#000" >100000</text>
<line x1="447.2" y1="260.4" x2="452.6" y2="260.4" stroke="#000" stroke-width="1.3" />
<text x="453.61" y="262.70" font-size="6.6" font-weight="bold" textLength="19.53" lengthAdjust="spacingAndGlyphs" fill="#000" >10000</text>
<line x1="447.2" y1="294.3" x2="452.6" y2="294.3" stroke="#000" stroke-width="1.3" />
<text x="453.60" y="296.60" font-size="6.6" font-weight="bold" textLength="15.85" lengthAdjust="spacingAndGlyphs" fill="#000" >1000</text>
<text x="303.00" y="262.25" font-size="7.8" font-weight="bold" textLength="31.49" lengthAdjust="spacingAndGlyphs" transform="rotate(-90 303.00 262.25)" fill="#000" >IgG gMFI</text>
<text x="477.20" y="232.34" font-size="7.8" font-weight="bold" textLength="31.61" lengthAdjust="spacingAndGlyphs" transform="rotate(90 477.20 232.34)" fill="#000" >IgA gMFI</text>
<text x="352.15" y="197.50" font-size="6.6" font-weight="bold" textLength="12.38" lengthAdjust="spacingAndGlyphs" fill="#000" >IgG</text>
<line x1="352.2" y1="199.5" x2="354.3" y2="199.5" stroke="#000" stroke-width="0.9" />
<line x1="358.6" y1="199.5" x2="364.5" y2="199.5" stroke="#000" stroke-width="0.9" />
<text x="415.75" y="197.50" font-size="6.6" font-weight="bold" textLength="12.02" lengthAdjust="spacingAndGlyphs" fill="#000" >IgA</text>
<line x1="415.8" y1="199.5" x2="417.9" y2="199.5" stroke="#000" stroke-width="0.9" />
<line x1="422.2" y1="199.5" x2="428" y2="199.5" stroke="#000" stroke-width="0.9" />
<circle cx="345.8" cy="231.7" r="2.2" fill="#ee1414"/>
<circle cx="353.5" cy="231.2" r="2.2" fill="#ee1414"/>
<circle cx="345.8" cy="238.6" r="2.2" fill="#ee1414"/>
<circle cx="353" cy="235" r="2.2" fill="#ee1414"/>
<line x1="340.2" y1="233.4" x2="358.2" y2="233.4" stroke="#ee1414" stroke-width="1.3" />
<circle cx="376.2" cy="254.7" r="2.2" fill="#f5891e"/>
<circle cx="372" cy="260.2" r="2.2" fill="#f5891e"/>
<circle cx="380" cy="260.8" r="2.2" fill="#f5891e"/>
<circle cx="376.2" cy="266.3" r="2.2" fill="#f5891e"/>
<line x1="367" y1="260.5" x2="385" y2="260.5" stroke="#f5891e" stroke-width="1.3" />
<line x1="333.4" y1="291.1" x2="385.2" y2="291.1" stroke="#000" stroke-width="1.3" stroke-dasharray="1.3 1.3"/>
<circle cx="402.7" cy="227.6" r="2.2" fill="#ee1414"/>
<circle cx="402.7" cy="255.8" r="2.2" fill="#ee1414"/>
<circle cx="398.8" cy="264.1" r="2.2" fill="#ee1414"/>
<circle cx="406.6" cy="261.3" r="2.2" fill="#ee1414"/>
<line x1="393.8" y1="258" x2="411.8" y2="258" stroke="#ee1414" stroke-width="1.3" />
<circle cx="429.3" cy="268.2" r="2.2" fill="#f5891e"/>
<circle cx="422.3" cy="273.2" r="2.2" fill="#f5891e"/>
<circle cx="429.3" cy="273.2" r="2.2" fill="#f5891e"/>
<circle cx="436.7" cy="273.2" r="2.2" fill="#f5891e"/>
<line x1="420" y1="273.2" x2="438" y2="273.2" stroke="#f5891e" stroke-width="1.3" />
<line x1="391.2" y1="279.5" x2="446.4" y2="279.5" stroke="#000" stroke-width="1.3" stroke-dasharray="1.3 1.3"/>
<line x1="349.4" y1="294.3" x2="349.4" y2="298.3" stroke="#000" stroke-width="1.1" />
<line x1="375.8" y1="294.3" x2="375.8" y2="298.3" stroke="#000" stroke-width="1.1" />
<line x1="402.7" y1="294.3" x2="402.7" y2="298.3" stroke="#000" stroke-width="1.1" />
<line x1="429.1" y1="294.3" x2="429.1" y2="298.3" stroke="#000" stroke-width="1.1" />
<text x="339.81" y="306.40" font-size="7.2" font-weight="bold" textLength="18.99" lengthAdjust="spacingAndGlyphs" fill="#000" >saliva</text>
<text x="367.10" y="306.40" font-size="7.2" font-weight="bold" textLength="17.63" lengthAdjust="spacingAndGlyphs" fill="#000" >mask</text>
<text x="392.81" y="306.40" font-size="7.2" font-weight="bold" textLength="19.09" lengthAdjust="spacingAndGlyphs" fill="#000" >saliva</text>
<text x="420.49" y="306.40" font-size="7.2" font-weight="bold" textLength="17.94" lengthAdjust="spacingAndGlyphs" fill="#000" >mask</text>
<text x="1.65" y="340.80" font-size="26" textLength="15.37" lengthAdjust="spacingAndGlyphs" fill="#000" >E</text>
<text x="77.08" y="338.80" font-size="11.2" textLength="16.84" lengthAdjust="spacingAndGlyphs" fill="#000" >IgG</text>
<line x1="77" y1="340.5" x2="93.7" y2="340.5" stroke="#000" stroke-width="0.9" />
<rect x="26.2" y="342.6" width="109" height="144.3" fill="none" stroke="#8c8c8c" stroke-width="1.3" />
<line x1="26.8" y1="376.4" x2="134.6" y2="376.4" stroke="#d6f8d6" stroke-width="1.1" />
<line x1="26.8" y1="391.9" x2="134.6" y2="391.9" stroke="#cacaca" stroke-width="1.1" />
<line x1="26.8" y1="408" x2="134.6" y2="408" stroke="#d6f8d6" stroke-width="1.1" />
<line x1="26.8" y1="423.9" x2="134.6" y2="423.9" stroke="#c4c4c4" stroke-width="1.1" />
<line x1="26.8" y1="440" x2="134.6" y2="440" stroke="#f8c8e0" stroke-width="1.1" />
<line x1="26.8" y1="455.6" x2="134.6" y2="455.6" stroke="#f6c2f6" stroke-width="1.1" />
<line x1="26.8" y1="471.4" x2="134.6" y2="471.4" stroke="#f8c8e0" stroke-width="1.1" />
<line x1="59.6" y1="343.2" x2="59.6" y2="486.5" stroke="#98b0e4" stroke-width="1.5" />
<path d="M46.50 376.4L46.50 376.40L46.76 376.40L47.02 376.39L47.28 376.39L47.54 376.39L47.80 376.39L48.06 376.38L48.32 376.38L48.58 376.37L48.84 376.36L49.10 376.35L49.36 376.33L49.62 376.31L49.88 376.29L50.14 376.26L50.40 376.23L50.66 376.19L50.92 376.14L51.18 376.07L51.44 376.00L51.70 375.92L51.96 375.82L52.22 375.70L52.48 375.56L52.74 375.41L53.00 375.23L53.26 375.03L53.52 374.80L53.78 374.54L54.04 374.26L54.30 373.93L54.56 373.57L54.82 373.16L55.08 372.70L55.34 372.19L55.60 371.60L55.86 370.95L56.12 370.21L56.38 369.40L56.64 368.49L56.90 367.51L57.16 366.46L57.42 365.37L57.68 364.25L57.94 363.15L58.20 362.11L58.46 361.18L58.72 360.39L58.98 359.80L59.24 359.43L59.50 359.30L59.76 359.43L60.02 359.80L60.28 360.39L60.54 361.18L60.80 362.11L61.06 363.15L61.32 364.25L61.58 365.37L61.84 366.46L62.10 367.51L62.36 368.49L62.62 369.40L62.88 370.21L63.14 370.95L63.40 371.60L63.66 372.19L63.92 372.70L64.18 373.16L64.44 373.57L64.70 373.93L64.96 374.26L65.22 374.54L65.48 374.80L65.74 375.03L66.00 375.23L66.26 375.41L66.52 375.56L66.78 375.70L67.04 375.82L67.30 375.92L67.56 376.00L67.82 376.07L68.08 376.14L68.34 376.19L68.60 376.23L68.86 376.26L69.12 376.29L69.38 376.31L69.64 376.33L69.90 376.35L70.16 376.36L70.42 376.37L70.68 376.38L70.94 376.38L71.20 376.39L71.46 376.39L71.72 376.39L71.98 376.39L72.24 376.40L72.50 376.40L72.50 376.4Z" fill="#98ee98" fill-opacity="0.7"/>
<path d="M46.50 376.4L46.50 376.40L46.76 376.40L47.02 376.39L47.28 376.39L47.54 376.39L47.80 376.39L48.06 376.38L48.32 376.38L48.58 376.37L48.84 376.36L49.10 376.35L49.36 376.33L49.62 376.31L49.88 376.29L50.14 376.26L50.40 376.23L50.66 376.19L50.92 376.14L51.18 376.07L51.44 376.00L51.70 375.92L51.96 375.82L52.22 375.70L52.48 375.56L52.74 375.41L53.00 375.23L53.26 375.03L53.52 374.80L53.78 374.54L54.04 374.26L54.30 373.93L54.56 373.57L54.82 373.16L55.08 372.70L55.34 372.19L55.60 371.60L55.86 370.95L56.12 370.21L56.38 369.40L56.64 368.49L56.90 367.51L57.16 366.46L57.42 365.37L57.68 364.25L57.94 363.15L58.20 362.11L58.46 361.18L58.72 360.39L58.98 359.80L59.24 359.43L59.50 359.30L59.76 359.43L60.02 359.80L60.28 360.39L60.54 361.18L60.80 362.11L61.06 363.15L61.32 364.25L61.58 365.37L61.84 366.46L62.10 367.51L62.36 368.49L62.62 369.40L62.88 370.21L63.14 370.95L63.40 371.60L63.66 372.19L63.92 372.70L64.18 373.16L64.44 373.57L64.70 373.93L64.96 374.26L65.22 374.54L65.48 374.80L65.74 375.03L66.00 375.23L66.26 375.41L66.52 375.56L66.78 375.70L67.04 375.82L67.30 375.92L67.56 376.00L67.82 376.07L68.08 376.14L68.34 376.19L68.60 376.23L68.86 376.26L69.12 376.29L69.38 376.31L69.64 376.33L69.90 376.35L70.16 376.36L70.42 376.37L70.68 376.38L70.94 376.38L71.20 376.39L71.46 376.39L71.72 376.39L71.98 376.39L72.24 376.40L72.50 376.40L72.50 376.4" fill="none" stroke="#7af07a" stroke-width="1.0" stroke-linejoin="round"/>
<path d="M58.50 391.9L58.50 391.89L58.76 391.89L59.02 391.89L59.28 391.89L59.54 391.88L59.80 391.88L60.06 391.87L60.32 391.86L60.58 391.85L60.84 391.84L61.10 391.82L61.36 391.80L61.62 391.77L61.88 391.74L62.14 391.70L62.40 391.65L62.66 391.59L62.92 391.52L63.18 391.44L63.44 391.35L63.70 391.23L63.96 391.10L64.22 390.96L64.48 390.79L64.74 390.59L65.00 390.37L65.26 390.13L65.52 389.85L65.78 389.54L66.04 389.19L66.30 388.80L66.56 388.37L66.82 387.88L67.08 387.33L67.34 386.72L67.60 386.03L67.86 385.26L68.12 384.40L68.38 383.45L68.64 382.41L68.90 381.29L69.16 380.10L69.42 378.87L69.68 377.62L69.94 376.41L70.20 375.26L70.46 374.24L70.72 373.38L70.98 372.74L71.24 372.34L71.50 372.20L71.76 372.36L72.02 372.81L72.28 373.54L72.54 374.50L72.80 375.63L73.06 376.89L73.32 378.20L73.58 379.53L73.84 380.82L74.10 382.05L74.36 383.18L74.62 384.22L74.88 385.15L75.14 385.98L75.40 386.72L75.66 387.37L75.92 387.95L76.18 388.46L76.44 388.91L76.70 389.31L76.96 389.67L77.22 389.98L77.48 390.26L77.74 390.51L78.00 390.72L78.26 390.91L78.52 391.08L78.78 391.22L79.04 391.34L79.30 391.44L79.56 391.53L79.82 391.60L80.08 391.66L80.34 391.71L80.60 391.75L80.86 391.78L81.12 391.81L81.38 391.83L81.64 391.84L81.90 391.86L82.16 391.87L82.42 391.88L82.68 391.88L82.94 391.89L83.20 391.89L83.46 391.89L83.72 391.89L83.98 391.90L84.24 391.90L84.50 391.90L84.50 391.9Z" fill="#8c8c8c" fill-opacity="0.7"/>
<path d="M58.50 391.9L58.50 391.89L58.76 391.89L59.02 391.89L59.28 391.89L59.54 391.88L59.80 391.88L60.06 391.87L60.32 391.86L60.58 391.85L60.84 391.84L61.10 391.82L61.36 391.80L61.62 391.77L61.88 391.74L62.14 391.70L62.40 391.65L62.66 391.59L62.92 391.52L63.18 391.44L63.44 391.35L63.70 391.23L63.96 391.10L64.22 390.96L64.48 390.79L64.74 390.59L65.00 390.37L65.26 390.13L65.52 389.85L65.78 389.54L66.04 389.19L66.30 388.80L66.56 388.37L66.82 387.88L67.08 387.33L67.34 386.72L67.60 386.03L67.86 385.26L68.12 384.40L68.38 383.45L68.64 382.41L68.90 381.29L69.16 380.10L69.42 378.87L69.68 377.62L69.94 376.41L70.20 375.26L70.46 374.24L70.72 373.38L70.98 372.74L71.24 372.34L71.50 372.20L71.76 372.36L72.02 372.81L72.28 373.54L72.54 374.50L72.80 375.63L73.06 376.89L73.32 378.20L73.58 379.53L73.84 380.82L74.10 382.05L74.36 383.18L74.62 384.22L74.88 385.15L75.14 385.98L75.40 386.72L75.66 387.37L75.92 387.95L76.18 388.46L76.44 388.91L76.70 389.31L76.96 389.67L77.22 389.98L77.48 390.26L77.74 390.51L78.00 390.72L78.26 390.91L78.52 391.08L78.78 391.22L79.04 391.34L79.30 391.44L79.56 391.53L79.82 391.60L80.08 391.66L80.34 391.71L80.60 391.75L80.86 391.78L81.12 391.81L81.38 391.83L81.64 391.84L81.90 391.86L82.16 391.87L82.42 391.88L82.68 391.88L82.94 391.89L83.20 391.89L83.46 391.89L83.72 391.89L83.98 391.90L84.24 391.90L84.50 391.90L84.50 391.9" fill="none" stroke="#333333" stroke-width="1.0" stroke-linejoin="round"/>
<path d="M85.40 408.0L85.40 407.97L85.66 407.96L85.92 407.95L86.18 407.93L86.44 407.92L86.70 407.90L86.96 407.87L87.22 407.84L87.48 407.81L87.74 407.77L88.00 407.72L88.26 407.66L88.52 407.59L88.78 407.52L89.04 407.42L89.30 407.32L89.56 407.20L89.82 407.06L90.08 406.90L90.34 406.73L90.60 406.53L90.86 406.30L91.12 406.05L91.38 405.78L91.64 405.47L91.90 405.13L92.16 404.75L92.42 404.34L92.68 403.88L92.94 403.37L93.20 402.81L93.46 402.19L93.72 401.51L93.98 400.74L94.24 399.90L94.50 398.97L94.76 397.95L95.02 396.84L95.28 395.65L95.54 394.37L95.80 393.04L96.06 391.66L96.32 390.27L96.58 388.91L96.84 387.60L97.10 386.40L97.36 385.35L97.62 384.48L97.88 383.83L98.14 383.44L98.40 383.30L98.66 383.45L98.92 383.90L99.18 384.62L99.44 385.58L99.70 386.74L99.96 388.05L100.22 389.46L100.48 390.93L100.74 392.39L101.00 393.83L101.26 395.21L101.52 396.50L101.78 397.70L102.04 398.80L102.30 399.80L102.56 400.70L102.82 401.51L103.08 402.23L103.34 402.88L103.60 403.47L103.86 403.99L104.12 404.46L104.38 404.89L104.64 405.27L104.90 405.62L105.16 405.93L105.42 406.20L105.68 406.45L105.94 406.67L106.20 406.86L106.46 407.03L106.72 407.18L106.98 407.31L107.24 407.42L107.50 407.52L107.76 407.60L108.02 407.67L108.28 407.73L108.54 407.78L108.80 407.82L109.06 407.86L109.32 407.89L109.58 407.91L109.84 407.93L110.10 407.94L110.36 407.95L110.62 407.96L110.88 407.97L111.14 407.98L111.40 407.98L111.40 408.0Z" fill="#98ee98" fill-opacity="0.7"/>
<path d="M85.40 408.0L85.40 407.97L85.66 407.96L85.92 407.95L86.18 407.93L86.44 407.92L86.70 407.90L86.96 407.87L87.22 407.84L87.48 407.81L87.74 407.77L88.00 407.72L88.26 407.66L88.52 407.59L88.78 407.52L89.04 407.42L89.30 407.32L89.56 407.20L89.82 407.06L90.08 406.90L90.34 406.73L90.60 406.53L90.86 406.30L91.12 406.05L91.38 405.78L91.64 405.47L91.90 405.13L92.16 404.75L92.42 404.34L92.68 403.88L92.94 403.37L93.20 402.81L93.46 402.19L93.72 401.51L93.98 400.74L94.24 399.90L94.50 398.97L94.76 397.95L95.02 396.84L95.28 395.65L95.54 394.37L95.80 393.04L96.06 391.66L96.32 390.27L96.58 388.91L96.84 387.60L97.10 386.40L97.36 385.35L97.62 384.48L97.88 383.83L98.14 383.44L98.40 383.30L98.66 383.45L98.92 383.90L99.18 384.62L99.44 385.58L99.70 386.74L99.96 388.05L100.22 389.46L100.48 390.93L100.74 392.39L101.00 393.83L101.26 395.21L101.52 396.50L101.78 397.70L102.04 398.80L102.30 399.80L102.56 400.70L102.82 401.51L103.08 402.23L103.34 402.88L103.60 403.47L103.86 403.99L104.12 404.46L104.38 404.89L104.64 405.27L104.90 405.62L105.16 405.93L105.42 406.20L105.68 406.45L105.94 406.67L106.20 406.86L106.46 407.03L106.72 407.18L106.98 407.31L107.24 407.42L107.50 407.52L107.76 407.60L108.02 407.67L108.28 407.73L108.54 407.78L108.80 407.82L109.06 407.86L109.32 407.89L109.58 407.91L109.84 407.93L110.10 407.94L110.36 407.95L110.62 407.96L110.88 407.97L111.14 407.98L111.40 407.98L111.40 408.0" fill="none" stroke="#7af07a" stroke-width="1.0" stroke-linejoin="round"/>
<path d="M89.40 423.9L89.40 423.87L89.66 423.86L89.92 423.85L90.18 423.84L90.44 423.83L90.70 423.81L90.96 423.79L91.22 423.77L91.48 423.74L91.74 423.70L92.00 423.66L92.26 423.61L92.52 423.55L92.78 423.48L93.04 423.40L93.30 423.31L93.56 423.20L93.82 423.09L94.08 422.95L94.34 422.80L94.60 422.62L94.86 422.43L95.12 422.21L95.38 421.97L95.64 421.71L95.90 421.41L96.16 421.09L96.42 420.73L96.68 420.33L96.94 419.89L97.20 419.41L97.46 418.87L97.72 418.27L97.98 417.61L98.24 416.88L98.50 416.08L98.76 415.20L99.02 414.23L99.28 413.20L99.54 412.09L99.80 410.94L100.06 409.74L100.32 408.54L100.58 407.36L100.84 406.23L101.10 405.19L101.36 404.28L101.62 403.52L101.88 402.96L102.14 402.62L102.40 402.50L102.66 402.81L102.92 403.71L103.18 405.10L103.44 406.84L103.70 408.76L103.96 410.72L104.22 412.60L104.48 414.32L104.74 415.85L105.00 417.16L105.26 418.27L105.52 419.22L105.78 420.02L106.04 420.69L106.30 421.27L106.56 421.76L106.82 422.17L107.08 422.52L107.34 422.81L107.60 423.05L107.86 423.24L108.12 423.40L108.38 423.52L108.64 423.62L108.90 423.70L109.16 423.75L109.42 423.79L109.68 423.83L109.94 423.85L110.20 423.86L110.46 423.88L110.72 423.88L110.98 423.89L111.24 423.89L111.50 423.90L111.76 423.90L112.02 423.90L112.28 423.90L112.54 423.90L112.80 423.90L113.06 423.90L113.32 423.90L113.58 423.90L113.84 423.90L114.10 423.90L114.36 423.90L114.62 423.90L114.88 423.90L115.14 423.90L115.40 423.90L115.40 423.9Z" fill="#808080" fill-opacity="0.7"/>
<path d="M89.40 423.9L89.40 423.87L89.66 423.86L89.92 423.85L90.18 423.84L90.44 423.83L90.70 423.81L90.96 423.79L91.22 423.77L91.48 423.74L91.74 423.70L92.00 423.66L92.26 423.61L92.52 423.55L92.78 423.48L93.04 423.40L93.30 423.31L93.56 423.20L93.82 423.09L94.08 422.95L94.34 422.80L94.60 422.62L94.86 422.43L95.12 422.21L95.38 421.97L95.64 421.71L95.90 421.41L96.16 421.09L96.42 420.73L96.68 420.33L96.94 419.89L97.20 419.41L97.46 418.87L97.72 418.27L97.98 417.61L98.24 416.88L98.50 416.08L98.76 415.20L99.02 414.23L99.28 413.20L99.54 412.09L99.80 410.94L100.06 409.74L100.32 408.54L100.58 407.36L100.84 406.23L101.10 405.19L101.36 404.28L101.62 403.52L101.88 402.96L102.14 402.62L102.40 402.50L102.66 402.81L102.92 403.71L103.18 405.10L103.44 406.84L103.70 408.76L103.96 410.72L104.22 412.60L104.48 414.32L104.74 415.85L105.00 417.16L105.26 418.27L105.52 419.22L105.78 420.02L106.04 420.69L106.30 421.27L106.56 421.76L106.82 422.17L107.08 422.52L107.34 422.81L107.60 423.05L107.86 423.24L108.12 423.40L108.38 423.52L108.64 423.62L108.90 423.70L109.16 423.75L109.42 423.79L109.68 423.83L109.94 423.85L110.20 423.86L110.46 423.88L110.72 423.88L110.98 423.89L111.24 423.89L111.50 423.90L111.76 423.90L112.02 423.90L112.28 423.90L112.54 423.90L112.80 423.90L113.06 423.90L113.32 423.90L113.58 423.90L113.84 423.90L114.10 423.90L114.36 423.90L114.62 423.90L114.88 423.90L115.14 423.90L115.40 423.90L115.40 423.9" fill="none" stroke="#2a2a2a" stroke-width="1.0" stroke-linejoin="round"/>
<path d="M40.50 440L40.50 440.00L40.76 440.00L41.02 440.00L41.28 439.99L41.54 439.99L41.80 439.99L42.06 439.98L42.32 439.98L42.58 439.97L42.84 439.96L43.10 439.94L43.36 439.92L43.62 439.89L43.88 439.86L44.14 439.82L44.40 439.76L44.66 439.69L44.92 439.60L45.18 439.49L45.44 439.36L45.70 439.19L45.96 438.99L46.22 438.75L46.48 438.46L46.74 438.12L47.00 437.72L47.26 437.26L47.52 436.74L47.78 436.13L48.04 435.46L48.30 434.70L48.56 433.87L48.82 432.95L49.08 431.96L49.34 430.90L49.60 429.78L49.86 428.60L50.12 427.38L50.38 426.14L50.64 424.89L50.90 423.65L51.16 422.44L51.42 421.28L51.68 420.20L51.94 419.21L52.20 418.33L52.46 417.59L52.72 416.99L52.98 416.55L53.24 416.29L53.50 416.20L53.76 416.28L54.02 416.53L54.28 416.94L54.54 417.50L54.80 418.20L55.06 419.03L55.32 419.97L55.58 421.00L55.84 422.10L56.10 423.26L56.36 424.45L56.62 425.66L56.88 426.86L57.14 428.05L57.40 429.21L57.66 430.33L57.92 431.39L58.18 432.38L58.44 433.31L58.70 434.17L58.96 434.95L59.22 435.66L59.48 436.30L59.74 436.86L60.00 437.36L60.26 437.79L60.52 438.17L60.78 438.49L61.04 438.76L61.30 439.00L61.56 439.19L61.82 439.35L62.08 439.48L62.34 439.59L62.60 439.68L62.86 439.75L63.12 439.81L63.38 439.85L63.64 439.89L63.90 439.91L64.16 439.94L64.42 439.95L64.68 439.96L64.94 439.97L65.20 439.98L65.46 439.99L65.72 439.99L65.98 439.99L66.24 439.99L66.50 440.00L66.50 440Z" fill="#ea80b2" fill-opacity="0.7"/>
<path d="M40.50 440L40.50 440.00L40.76 440.00L41.02 440.00L41.28 439.99L41.54 439.99L41.80 439.99L42.06 439.98L42.32 439.98L42.58 439.97L42.84 439.96L43.10 439.94L43.36 439.92L43.62 439.89L43.88 439.86L44.14 439.82L44.40 439.76L44.66 439.69L44.92 439.60L45.18 439.49L45.44 439.36L45.70 439.19L45.96 438.99L46.22 438.75L46.48 438.46L46.74 438.12L47.00 437.72L47.26 437.26L47.52 436.74L47.78 436.13L48.04 435.46L48.30 434.70L48.56 433.87L48.82 432.95L49.08 431.96L49.34 430.90L49.60 429.78L49.86 428.60L50.12 427.38L50.38 426.14L50.64 424.89L50.90 423.65L51.16 422.44L51.42 421.28L51.68 420.20L51.94 419.21L52.20 418.33L52.46 417.59L52.72 416.99L52.98 416.55L53.24 416.29L53.50 416.20L53.76 416.28L54.02 416.53L54.28 416.94L54.54 417.50L54.80 418.20L55.06 419.03L55.32 419.97L55.58 421.00L55.84 422.10L56.10 423.26L56.36 424.45L56.62 425.66L56.88 426.86L57.14 428.05L57.40 429.21L57.66 430.33L57.92 431.39L58.18 432.38L58.44 433.31L58.70 434.17L58.96 434.95L59.22 435.66L59.48 436.30L59.74 436.86L60.00 437.36L60.26 437.79L60.52 438.17L60.78 438.49L61.04 438.76L61.30 439.00L61.56 439.19L61.82 439.35L62.08 439.48L62.34 439.59L62.60 439.68L62.86 439.75L63.12 439.81L63.38 439.85L63.64 439.89L63.90 439.91L64.16 439.94L64.42 439.95L64.68 439.96L64.94 439.97L65.20 439.98L65.46 439.99L65.72 439.99L65.98 439.99L66.24 439.99L66.50 440.00L66.50 440" fill="none" stroke="#d8307c" stroke-width="1.0" stroke-linejoin="round"/>
<path d="M41.60 455.6L41.60 455.60L41.86 455.60L42.12 455.60L42.38 455.59L42.64 455.59L42.90 455.59L43.16 455.58L43.42 455.58L43.68 455.57L43.94 455.56L44.20 455.54L44.46 455.52L44.72 455.49L44.98 455.46L45.24 455.41L45.50 455.36L45.76 455.28L46.02 455.19L46.28 455.08L46.54 454.94L46.80 454.78L47.06 454.57L47.32 454.33L47.58 454.03L47.84 453.69L48.10 453.29L48.36 452.82L48.62 452.28L48.88 451.67L49.14 450.98L49.40 450.21L49.66 449.36L49.92 448.43L50.18 447.43L50.44 446.35L50.70 445.20L50.96 444.01L51.22 442.77L51.48 441.51L51.74 440.24L52.00 438.98L52.26 437.75L52.52 436.57L52.78 435.47L53.04 434.46L53.30 433.57L53.56 432.81L53.82 432.20L54.08 431.76L54.34 431.49L54.60 431.40L54.86 431.48L55.12 431.72L55.38 432.11L55.64 432.64L55.90 433.32L56.16 434.11L56.42 435.01L56.68 436.01L56.94 437.08L57.20 438.20L57.46 439.37L57.72 440.56L57.98 441.75L58.24 442.93L58.50 444.08L58.76 445.20L59.02 446.28L59.28 447.29L59.54 448.25L59.80 449.14L60.06 449.96L60.32 450.70L60.58 451.38L60.84 451.98L61.10 452.52L61.36 453.00L61.62 453.42L61.88 453.78L62.14 454.09L62.40 454.36L62.66 454.59L62.92 454.78L63.18 454.94L63.44 455.07L63.70 455.18L63.96 455.26L64.22 455.34L64.48 455.39L64.74 455.44L65.00 455.48L65.26 455.51L65.52 455.53L65.78 455.55L66.04 455.56L66.30 455.57L66.56 455.58L66.82 455.58L67.08 455.59L67.34 455.59L67.60 455.59L67.60 455.6Z" fill="#ee88ee" fill-opacity="0.7"/>
<path d="M41.60 455.6L41.60 455.60L41.86 455.60L42.12 455.60L42.38 455.59L42.64 455.59L42.90 455.59L43.16 455.58L43.42 455.58L43.68 455.57L43.94 455.56L44.20 455.54L44.46 455.52L44.72 455.49L44.98 455.46L45.24 455.41L45.50 455.36L45.76 455.28L46.02 455.19L46.28 455.08L46.54 454.94L46.80 454.78L47.06 454.57L47.32 454.33L47.58 454.03L47.84 453.69L48.10 453.29L48.36 452.82L48.62 452.28L48.88 451.67L49.14 450.98L49.40 450.21L49.66 449.36L49.92 448.43L50.18 447.43L50.44 446.35L50.70 445.20L50.96 444.01L51.22 442.77L51.48 441.51L51.74 440.24L52.00 438.98L52.26 437.75L52.52 436.57L52.78 435.47L53.04 434.46L53.30 433.57L53.56 432.81L53.82 432.20L54.08 431.76L54.34 431.49L54.60 431.40L54.86 431.48L55.12 431.72L55.38 432.11L55.64 432.64L55.90 433.32L56.16 434.11L56.42 435.01L56.68 436.01L56.94 437.08L57.20 438.20L57.46 439.37L57.72 440.56L57.98 441.75L58.24 442.93L58.50 444.08L58.76 445.20L59.02 446.28L59.28 447.29L59.54 448.25L59.80 449.14L60.06 449.96L60.32 450.70L60.58 451.38L60.84 451.98L61.10 452.52L61.36 453.00L61.62 453.42L61.88 453.78L62.14 454.09L62.40 454.36L62.66 454.59L62.92 454.78L63.18 454.94L63.44 455.07L63.70 455.18L63.96 455.26L64.22 455.34L64.48 455.39L64.74 455.44L65.00 455.48L65.26 455.51L65.52 455.53L65.78 455.55L66.04 455.56L66.30 455.57L66.56 455.58L66.82 455.58L67.08 455.59L67.34 455.59L67.60 455.59L67.60 455.6" fill="none" stroke="#dc3cdc" stroke-width="1.0" stroke-linejoin="round"/>
<path d="M40.20 471.4L40.20 471.40L40.46 471.40L40.72 471.40L40.98 471.39L41.24 471.39L41.50 471.39L41.76 471.38L42.02 471.38L42.28 471.37L42.54 471.36L42.80 471.34L43.06 471.32L43.32 471.30L43.58 471.26L43.84 471.22L44.10 471.17L44.36 471.10L44.62 471.01L44.88 470.90L45.14 470.77L45.40 470.61L45.66 470.41L45.92 470.17L46.18 469.89L46.44 469.56L46.70 469.17L46.96 468.72L47.22 468.20L47.48 467.62L47.74 466.95L48.00 466.21L48.26 465.39L48.52 464.50L48.78 463.53L49.04 462.49L49.30 461.39L49.56 460.24L49.82 459.05L50.08 457.83L50.34 456.61L50.60 455.40L50.86 454.21L51.12 453.08L51.38 452.02L51.64 451.05L51.90 450.19L52.16 449.46L52.42 448.87L52.68 448.45L52.94 448.19L53.20 448.10L53.46 448.18L53.72 448.43L53.98 448.83L54.24 449.37L54.50 450.06L54.76 450.87L55.02 451.79L55.28 452.80L55.54 453.88L55.80 455.01L56.06 456.18L56.32 457.36L56.58 458.54L56.84 459.71L57.10 460.84L57.36 461.93L57.62 462.97L57.88 463.94L58.14 464.85L58.40 465.69L58.66 466.46L58.92 467.15L59.18 467.77L59.44 468.33L59.70 468.81L59.96 469.24L60.22 469.61L60.48 469.92L60.74 470.19L61.00 470.42L61.26 470.61L61.52 470.76L61.78 470.89L62.04 471.00L62.30 471.09L62.56 471.16L62.82 471.21L63.08 471.25L63.34 471.29L63.60 471.32L63.86 471.34L64.12 471.35L64.38 471.37L64.64 471.37L64.90 471.38L65.16 471.39L65.42 471.39L65.68 471.39L65.94 471.39L66.20 471.40L66.20 471.4Z" fill="#ea80b2" fill-opacity="0.7"/>
<path d="M40.20 471.4L40.20 471.40L40.46 471.40L40.72 471.40L40.98 471.39L41.24 471.39L41.50 471.39L41.76 471.38L42.02 471.38L42.28 471.37L42.54 471.36L42.80 471.34L43.06 471.32L43.32 471.30L43.58 471.26L43.84 471.22L44.10 471.17L44.36 471.10L44.62 471.01L44.88 470.90L45.14 470.77L45.40 470.61L45.66 470.41L45.92 470.17L46.18 469.89L46.44 469.56L46.70 469.17L46.96 468.72L47.22 468.20L47.48 467.62L47.74 466.95L48.00 466.21L48.26 465.39L48.52 464.50L48.78 463.53L49.04 462.49L49.30 461.39L49.56 460.24L49.82 459.05L50.08 457.83L50.34 456.61L50.60 455.40L50.86 454.21L51.12 453.08L51.38 452.02L51.64 451.05L51.90 450.19L52.16 449.46L52.42 448.87L52.68 448.45L52.94 448.19L53.20 448.10L53.46 448.18L53.72 448.43L53.98 448.83L54.24 449.37L54.50 450.06L54.76 450.87L55.02 451.79L55.28 452.80L55.54 453.88L55.80 455.01L56.06 456.18L56.32 457.36L56.58 458.54L56.84 459.71L57.10 460.84L57.36 461.93L57.62 462.97L57.88 463.94L58.14 464.85L58.40 465.69L58.66 466.46L58.92 467.15L59.18 467.77L59.44 468.33L59.70 468.81L59.96 469.24L60.22 469.61L60.48 469.92L60.74 470.19L61.00 470.42L61.26 470.61L61.52 470.76L61.78 470.89L62.04 471.00L62.30 471.09L62.56 471.16L62.82 471.21L63.08 471.25L63.34 471.29L63.60 471.32L63.86 471.34L64.12 471.35L64.38 471.37L64.64 471.37L64.90 471.38L65.16 471.39L65.42 471.39L65.68 471.39L65.94 471.39L66.20 471.40L66.20 471.4" fill="none" stroke="#d8307c" stroke-width="1.0" stroke-linejoin="round"/>
<path d="M41.60 487L41.60 487.00L41.86 487.00L42.12 487.00L42.38 486.99L42.64 486.99L42.90 486.99L43.16 486.98L43.42 486.98L43.68 486.97L43.94 486.96L44.20 486.94L44.46 486.92L44.72 486.90L44.98 486.87L45.24 486.82L45.50 486.77L45.76 486.70L46.02 486.62L46.28 486.51L46.54 486.38L46.80 486.22L47.06 486.03L47.32 485.80L47.58 485.52L47.84 485.20L48.10 484.82L48.36 484.38L48.62 483.87L48.88 483.30L49.14 482.65L49.40 481.92L49.66 481.12L49.92 480.25L50.18 479.30L50.44 478.28L50.70 477.21L50.96 476.08L51.22 474.91L51.48 473.72L51.74 472.53L52.00 471.34L52.26 470.18L52.52 469.07L52.78 468.03L53.04 467.08L53.30 466.24L53.56 465.53L53.82 464.96L54.08 464.54L54.34 464.29L54.60 464.20L54.86 464.28L55.12 464.50L55.38 464.87L55.64 465.37L55.90 466.01L56.16 466.75L56.42 467.60L56.68 468.54L56.94 469.55L57.20 470.61L57.46 471.71L57.72 472.83L57.98 473.95L58.24 475.06L58.50 476.15L58.76 477.21L59.02 478.22L59.28 479.18L59.54 480.07L59.80 480.91L60.06 481.68L60.32 482.39L60.58 483.02L60.84 483.59L61.10 484.10L61.36 484.55L61.62 484.94L61.88 485.29L62.14 485.58L62.40 485.83L62.66 486.04L62.92 486.22L63.18 486.37L63.44 486.50L63.70 486.60L63.96 486.68L64.22 486.75L64.48 486.81L64.74 486.85L65.00 486.88L65.26 486.91L65.52 486.93L65.78 486.95L66.04 486.96L66.30 486.97L66.56 486.98L66.82 486.98L67.08 486.99L67.34 486.99L67.60 486.99L67.60 487Z" fill="#ee88ee" fill-opacity="0.7"/>
<path d="M41.60 487L41.60 487.00L41.86 487.00L42.12 487.00L42.38 486.99L42.64 486.99L42.90 486.99L43.16 486.98L43.42 486.98L43.68 486.97L43.94 486.96L44.20 486.94L44.46 486.92L44.72 486.90L44.98 486.87L45.24 486.82L45.50 486.77L45.76 486.70L46.02 486.62L46.28 486.51L46.54 486.38L46.80 486.22L47.06 486.03L47.32 485.80L47.58 485.52L47.84 485.20L48.10 484.82L48.36 484.38L48.62 483.87L48.88 483.30L49.14 482.65L49.40 481.92L49.66 481.12L49.92 480.25L50.18 479.30L50.44 478.28L50.70 477.21L50.96 476.08L51.22 474.91L51.48 473.72L51.74 472.53L52.00 471.34L52.26 470.18L52.52 469.07L52.78 468.03L53.04 467.08L53.30 466.24L53.56 465.53L53.82 464.96L54.08 464.54L54.34 464.29L54.60 464.20L54.86 464.28L55.12 464.50L55.38 464.87L55.64 465.37L55.90 466.01L56.16 466.75L56.42 467.60L56.68 468.54L56.94 469.55L57.20 470.61L57.46 471.71L57.72 472.83L57.98 473.95L58.24 475.06L58.50 476.15L58.76 477.21L59.02 478.22L59.28 479.18L59.54 480.07L59.80 480.91L60.06 481.68L60.32 482.39L60.58 483.02L60.84 483.59L61.10 484.10L61.36 484.55L61.62 484.94L61.88 485.29L62.14 485.58L62.40 485.83L62.66 486.04L62.92 486.22L63.18 486.37L63.44 486.50L63.70 486.60L63.96 486.68L64.22 486.75L64.48 486.81L64.74 486.85L65.00 486.88L65.26 486.91L65.52 486.93L65.78 486.95L66.04 486.96L66.30 486.97L66.56 486.98L66.82 486.98L67.08 486.99L67.34 486.99L67.60 486.99L67.60 487" fill="none" stroke="#dc3cdc" stroke-width="1.0" stroke-linejoin="round"/>
<line x1="65.2" y1="487" x2="65.2" y2="490" stroke="#333" stroke-width="0.9" />
<line x1="99.5" y1="487" x2="99.5" y2="490" stroke="#333" stroke-width="0.9" />
<line x1="128.2" y1="487" x2="128.2" y2="490" stroke="#333" stroke-width="0.9" />
<line x1="36" y1="487" x2="36" y2="488.8" stroke="#666" stroke-width="0.6" />
<line x1="40" y1="487" x2="40" y2="488.8" stroke="#666" stroke-width="0.6" />
<line x1="43" y1="487" x2="43" y2="488.8" stroke="#666" stroke-width="0.6" />
<line x1="45" y1="487" x2="45" y2="488.8" stroke="#666" stroke-width="0.6" />
<line x1="47" y1="487" x2="47" y2="488.8" stroke="#666" stroke-width="0.6" />
<line x1="49" y1="487" x2="49" y2="488.8" stroke="#666" stroke-width="0.6" />
<line x1="51" y1="487" x2="51" y2="488.8" stroke="#666" stroke-width="0.6" />
<line x1="53" y1="487" x2="53" y2="488.8" stroke="#666" stroke-width="0.6" />
<line x1="55" y1="487" x2="55" y2="488.8" stroke="#666" stroke-width="0.6" />
<line x1="57" y1="487" x2="57" y2="488.8" stroke="#666" stroke-width="0.6" />
<line x1="75" y1="487" x2="75" y2="488.8" stroke="#666" stroke-width="0.6" />
<line x1="82" y1="487" x2="82" y2="488.8" stroke="#666" stroke-width="0.6" />
<line x1="87" y1="487" x2="87" y2="488.8" stroke="#666" stroke-width="0.6" />
<line x1="90" y1="487" x2="90" y2="488.8" stroke="#666" stroke-width="0.6" />
<line x1="93" y1="487" x2="93" y2="488.8" stroke="#666" stroke-width="0.6" />
<line x1="95" y1="487" x2="95" y2="488.8" stroke="#666" stroke-width="0.6" />
<line x1="97" y1="487" x2="97" y2="488.8" stroke="#666" stroke-width="0.6" />
<line x1="110" y1="487" x2="110" y2="488.8" stroke="#666" stroke-width="0.6" />
<line x1="117" y1="487" x2="117" y2="488.8" stroke="#666" stroke-width="0.6" />
<line x1="121" y1="487" x2="121" y2="488.8" stroke="#666" stroke-width="0.6" />
<line x1="124" y1="487" x2="124" y2="488.8" stroke="#666" stroke-width="0.6" />
<line x1="126" y1="487" x2="126" y2="488.8" stroke="#666" stroke-width="0.6" />
<line x1="49.5" y1="487" x2="49.5" y2="489.5" stroke="#222" stroke-width="0.8" />
<line x1="50.5" y1="487" x2="50.5" y2="489.5" stroke="#222" stroke-width="0.8" />
<line x1="51.5" y1="487" x2="51.5" y2="489.5" stroke="#222" stroke-width="0.8" />
<line x1="52.5" y1="487" x2="52.5" y2="489.5" stroke="#222" stroke-width="0.8" />
<text x="48.90" y="501.90" font-size="11.5" font-family="'Liberation Serif', serif" textLength="7.66" lengthAdjust="spacingAndGlyphs" fill="#000" >α</text>
<text x="56.80" y="501.90" font-size="11.5" textLength="74.09" lengthAdjust="spacingAndGlyphs" fill="#000" >SARS-CoV2 IgG</text>
<line x1="137.4" y1="343.2" x2="137.4" y2="486.3" stroke="#000" stroke-width="1.2" />
<path d="M137.4 344.1 H147.2 Q148 344.1 148 344.90000000000003 V390.4 Q148 391.2 147.2 391.2 H137.4" fill="none" stroke="#3e6ccc" stroke-width="1.6"/>
<path d="M137.4 393.2 H147.2 Q148 393.2 148 394.0 V421.8 Q148 422.6 147.2 422.6 H137.4" fill="none" stroke="#3e6ccc" stroke-width="1.6"/>
<path d="M137.4 424.6 H147.2 Q148 424.6 148 425.40000000000003 V453.0 Q148 453.8 147.2 453.8 H137.4" fill="none" stroke="#3e6ccc" stroke-width="1.6"/>
<path d="M137.4 455.3 H147.2 Q148 455.3 148 456.1 V484.4 Q148 485.2 147.2 485.2 H137.4" fill="none" stroke="#3e6ccc" stroke-width="1.6"/>
<text x="152.73" y="376.40" font-size="8.6" textLength="18.95" lengthAdjust="spacingAndGlyphs" fill="#000" >Child</text>
<text x="152.93" y="413.00" font-size="8.6" textLength="19.88" lengthAdjust="spacingAndGlyphs" fill="#000" >Adult</text>
<text x="152.51" y="443.00" font-size="8.6" textLength="20.00" lengthAdjust="spacingAndGlyphs" fill="#000" >Child</text>
<text x="152.23" y="473.50" font-size="8.6" textLength="20.08" lengthAdjust="spacingAndGlyphs" fill="#000" >Adult</text>
<line x1="178" y1="365" x2="178" y2="416.5" stroke="#3e6ccc" stroke-width="1.5" />
<line x1="178" y1="430.6" x2="178" y2="482.2" stroke="#3e6ccc" stroke-width="1.5" />
<text x="193.90" y="365.63" font-size="11.2" textLength="47.15" lengthAdjust="spacingAndGlyphs" transform="rotate(90 193.90 365.63)" fill="#000" >vaccinated</text>
<text x="181.10" y="375.32" font-size="11.2" textLength="26.79" lengthAdjust="spacingAndGlyphs" transform="rotate(90 181.10 375.32)" fill="#000" >adults</text>
<text x="196.10" y="430.20" font-size="11.2" textLength="58.88" lengthAdjust="spacingAndGlyphs" transform="rotate(90 196.10 430.20)" fill="#000" >unvaccinated</text>
<text x="183.20" y="446.02" font-size="11.2" textLength="27.30" lengthAdjust="spacingAndGlyphs" transform="rotate(90 183.20 446.02)" fill="#000" >adults</text>
<text x="209.44" y="340.40" font-size="25" textLength="14.91" lengthAdjust="spacingAndGlyphs" fill="#000" >F</text>
<line x1="256.6" y1="351.9" x2="256.6" y2="452.9" stroke="#000" stroke-width="1.3" />
<line x1="256" y1="452.9" x2="349.4" y2="452.9" stroke="#000" stroke-width="1.3" />
<line x1="252" y1="352.5" x2="256.6" y2="352.5" stroke="#000" stroke-width="1.2" />
<text x="240.12" y="355.10" font-size="7.3" font-weight="bold" textLength="10.64" lengthAdjust="spacingAndGlyphs" fill="#000" >5.0</text>
<line x1="252" y1="377.6" x2="256.6" y2="377.6" stroke="#000" stroke-width="1.2" />
<text x="240.24" y="380.20" font-size="7.3" font-weight="bold" textLength="10.42" lengthAdjust="spacingAndGlyphs" fill="#000" >4.5</text>
<line x1="252" y1="402.7" x2="256.6" y2="402.7" stroke="#000" stroke-width="1.2" />
<text x="240.24" y="405.30" font-size="7.3" font-weight="bold" textLength="10.52" lengthAdjust="spacingAndGlyphs" fill="#000" >4.0</text>
<line x1="252" y1="427.8" x2="256.6" y2="427.8" stroke="#000" stroke-width="1.2" />
<text x="240.18" y="430.40" font-size="7.3" font-weight="bold" textLength="10.48" lengthAdjust="spacingAndGlyphs" fill="#000" >3.5</text>
<line x1="252" y1="452.9" x2="256.6" y2="452.9" stroke="#000" stroke-width="1.2" />
<text x="240.18" y="455.50" font-size="7.3" font-weight="bold" textLength="10.58" lengthAdjust="spacingAndGlyphs" fill="#000" >3.0</text>
<line x1="282.8" y1="452.9" x2="282.8" y2="456.9" stroke="#000" stroke-width="1.2" />
<line x1="322.6" y1="452.9" x2="322.6" y2="456.9" stroke="#000" stroke-width="1.2" />
<line x1="386.1" y1="350.8" x2="386.1" y2="451.8" stroke="#000" stroke-width="1.3" />
<line x1="385.5" y1="451.8" x2="479.4" y2="451.8" stroke="#000" stroke-width="1.3" />
<line x1="381.5" y1="351.4" x2="386.1" y2="351.4" stroke="#000" stroke-width="1.2" />
<text x="370.23" y="354.00" font-size="7.3" font-weight="bold" textLength="10.01" lengthAdjust="spacingAndGlyphs" fill="#000" >5.0</text>
<line x1="381.5" y1="376.5" x2="386.1" y2="376.5" stroke="#000" stroke-width="1.2" />
<text x="370.34" y="379.10" font-size="7.3" font-weight="bold" textLength="9.80" lengthAdjust="spacingAndGlyphs" fill="#000" >4.5</text>
<line x1="381.5" y1="401.6" x2="386.1" y2="401.6" stroke="#000" stroke-width="1.2" />
<text x="370.34" y="404.20" font-size="7.3" font-weight="bold" textLength="9.89" lengthAdjust="spacingAndGlyphs" fill="#000" >4.0</text>
<line x1="381.5" y1="426.7" x2="386.1" y2="426.7" stroke="#000" stroke-width="1.2" />
<text x="370.29" y="429.30" font-size="7.3" font-weight="bold" textLength="9.86" lengthAdjust="spacingAndGlyphs" fill="#000" >3.5</text>
<line x1="381.5" y1="451.8" x2="386.1" y2="451.8" stroke="#000" stroke-width="1.2" />
<text x="370.29" y="454.40" font-size="7.3" font-weight="bold" textLength="9.95" lengthAdjust="spacingAndGlyphs" fill="#000" >3.0</text>
<line x1="412.6" y1="451.8" x2="412.6" y2="455.8" stroke="#000" stroke-width="1.2" />
<line x1="452.8" y1="451.8" x2="452.8" y2="455.8" stroke="#000" stroke-width="1.2" />
<text x="295.10" y="348.80" font-size="9.8" font-weight="bold" textLength="16.07" lengthAdjust="spacingAndGlyphs" fill="#000" >IgG</text>
<text x="425.50" y="348.00" font-size="9.8" font-weight="bold" textLength="15.52" lengthAdjust="spacingAndGlyphs" fill="#000" >IgA</text>
<text x="233.20" y="429.07" font-size="8.4" font-weight="bold" textLength="53.13" lengthAdjust="spacingAndGlyphs" transform="rotate(-90 233.20 429.07)" fill="#000" >Child Log IgG</text>
<text x="362.50" y="427.07" font-size="8.4" font-weight="bold" textLength="52.03" lengthAdjust="spacingAndGlyphs" transform="rotate(-90 362.50 427.07)" fill="#000" >Child Log IgA</text>
<text x="266.83" y="466.20" font-size="7.4" font-weight="bold" textLength="32.32" lengthAdjust="spacingAndGlyphs" fill="#000" >High IgG</text>
<text x="308.60" y="466.20" font-size="7.4" font-weight="bold" textLength="28.56" lengthAdjust="spacingAndGlyphs" fill="#000" >low IgG</text>
<text x="396.82" y="464.80" font-size="7.4" font-weight="bold" textLength="32.04" lengthAdjust="spacingAndGlyphs" fill="#000" >High IgA</text>
<text x="438.59" y="464.80" font-size="7.4" font-weight="bold" textLength="28.28" lengthAdjust="spacingAndGlyphs" fill="#000" >low IgA</text>
<line x1="281.2" y1="475.8" x2="325.8" y2="475.8" stroke="#000" stroke-width="1.7" />
<text x="281.57" y="485.80" font-size="8.5" textLength="43.90" lengthAdjust="spacingAndGlyphs" fill="#000" >Parents IgG</text>
<line x1="411.2" y1="474.6" x2="455.8" y2="474.6" stroke="#000" stroke-width="1.7" />
<text x="411.27" y="484.20" font-size="8.5" textLength="42.80" lengthAdjust="spacingAndGlyphs" fill="#000" >Parents IgA</text>
<line x1="281.5" y1="370.9" x2="324.6" y2="370.9" stroke="#000" stroke-width="1.9" />
<text x="304.9" y="372" font-size="10" font-weight="bold" text-anchor="middle">*</text>
<path d="M282.90 378.20C283.02 378.20 283.15 379.97 283.25 381.00C283.35 382.03 283.32 383.40 283.50 384.40C283.68 385.40 283.95 386.12 284.30 387.00C284.65 387.88 285.10 388.90 285.60 389.70C286.10 390.50 286.68 391.15 287.30 391.80C287.92 392.45 288.58 392.97 289.30 393.60C290.02 394.23 290.93 394.95 291.60 395.60C292.27 396.25 292.77 396.87 293.30 397.50C293.83 398.13 294.42 398.82 294.80 399.40C295.18 399.98 295.50 400.52 295.60 401.00C295.70 401.48 295.75 401.87 295.40 402.30C295.05 402.73 294.35 403.17 293.50 403.60C292.65 404.03 291.30 404.48 290.30 404.90C289.30 405.32 288.30 405.65 287.50 406.10C286.70 406.55 285.95 407.08 285.50 407.60C285.05 408.12 284.75 408.63 284.80 409.20C284.85 409.77 285.28 410.35 285.80 411.00C286.32 411.65 287.18 412.27 287.90 413.10C288.62 413.93 289.58 414.98 290.10 416.00C290.62 417.02 291.07 418.20 291.00 419.20C290.93 420.20 290.30 421.17 289.70 422.00C289.10 422.83 288.12 423.53 287.40 424.20C286.68 424.87 285.93 425.45 285.40 426.00C284.87 426.55 284.53 426.60 284.20 427.50C283.87 428.40 283.62 429.93 283.40 431.40C283.18 432.87 283.07 436.30 282.90 436.30C282.73 436.30 282.62 432.87 282.40 431.40C282.18 429.93 281.93 428.40 281.60 427.50C281.27 426.60 280.93 426.55 280.40 426.00C279.87 425.45 279.12 424.87 278.40 424.20C277.68 423.53 276.70 422.83 276.10 422.00C275.50 421.17 274.87 420.20 274.80 419.20C274.73 418.20 275.18 417.02 275.70 416.00C276.22 414.98 277.18 413.93 277.90 413.10C278.62 412.27 279.48 411.65 280.00 411.00C280.52 410.35 280.95 409.77 281.00 409.20C281.05 408.63 280.75 408.12 280.30 407.60C279.85 407.08 279.10 406.55 278.30 406.10C277.50 405.65 276.50 405.32 275.50 404.90C274.50 404.48 273.15 404.03 272.30 403.60C271.45 403.17 270.75 402.73 270.40 402.30C270.05 401.87 270.10 401.48 270.20 401.00C270.30 400.52 270.62 399.98 271.00 399.40C271.38 398.82 271.97 398.13 272.50 397.50C273.03 396.87 273.53 396.25 274.20 395.60C274.87 394.95 275.78 394.23 276.50 393.60C277.22 392.97 277.88 392.45 278.50 391.80C279.12 391.15 279.70 390.50 280.20 389.70C280.70 388.90 281.15 387.88 281.50 387.00C281.85 386.12 282.12 385.40 282.30 384.40C282.47 383.40 282.45 382.03 282.55 381.00C282.65 379.97 282.78 378.20 282.90 378.20Z" fill="#2790fc" stroke="#0606ff" stroke-width="1.8" stroke-linejoin="round"/>
<path d="M323.00 384.70C323.10 384.70 323.20 385.78 323.30 386.50C323.40 387.22 323.48 388.28 323.60 389.00C323.72 389.72 323.90 390.22 324.00 390.80C324.10 391.38 324.20 391.92 324.20 392.50C324.20 393.08 324.12 393.62 324.00 394.30C323.88 394.98 323.52 395.82 323.50 396.60C323.48 397.38 323.77 398.20 323.90 399.00C324.03 399.80 324.28 400.70 324.30 401.40C324.32 402.10 324.08 402.65 324.00 403.20C323.92 403.75 323.58 404.15 323.80 404.70C324.02 405.25 324.87 405.87 325.30 406.50C325.73 407.13 326.35 407.83 326.40 408.50C326.45 409.17 325.82 409.88 325.60 410.50C325.38 411.12 324.83 411.62 325.10 412.20C325.37 412.78 326.05 413.40 327.20 414.00C328.35 414.60 330.72 415.23 332.00 415.80C333.28 416.37 334.83 416.83 334.90 417.40C334.97 417.97 333.32 418.62 332.40 419.20C331.48 419.78 329.57 420.32 329.40 420.90C329.23 421.48 330.92 422.10 331.40 422.70C331.88 423.30 332.45 423.95 332.30 424.50C332.15 425.05 331.32 425.52 330.50 426.00C329.68 426.48 328.42 426.77 327.40 427.40C326.38 428.03 325.03 429.12 324.40 429.80C323.77 430.48 323.83 430.87 323.60 431.50C323.37 432.13 323.20 433.60 323.00 433.60C322.80 433.60 322.63 432.13 322.40 431.50C322.17 430.87 322.23 430.48 321.60 429.80C320.97 429.12 319.62 428.03 318.60 427.40C317.58 426.77 316.32 426.48 315.50 426.00C314.68 425.52 313.85 425.05 313.70 424.50C313.55 423.95 314.12 423.30 314.60 422.70C315.08 422.10 316.77 421.48 316.60 420.90C316.43 420.32 314.52 419.78 313.60 419.20C312.68 418.62 311.03 417.97 311.10 417.40C311.17 416.83 312.72 416.37 314.00 415.80C315.28 415.23 317.65 414.60 318.80 414.00C319.95 413.40 320.63 412.78 320.90 412.20C321.17 411.62 320.62 411.12 320.40 410.50C320.18 409.88 319.55 409.17 319.60 408.50C319.65 407.83 320.27 407.13 320.70 406.50C321.13 405.87 321.98 405.25 322.20 404.70C322.42 404.15 322.08 403.75 322.00 403.20C321.92 402.65 321.68 402.10 321.70 401.40C321.72 400.70 321.97 399.80 322.10 399.00C322.23 398.20 322.52 397.38 322.50 396.60C322.48 395.82 322.12 394.98 322.00 394.30C321.88 393.62 321.80 393.08 321.80 392.50C321.80 391.92 321.90 391.38 322.00 390.80C322.10 390.22 322.28 389.72 322.40 389.00C322.52 388.28 322.60 387.22 322.70 386.50C322.80 385.78 322.90 384.70 323.00 384.70Z" fill="#2790fc" stroke="#0606ff" stroke-width="1.8" stroke-linejoin="round"/>
<line x1="272.6" y1="402.8" x2="293.4" y2="402.8" stroke="#c8324e" stroke-width="1.7" stroke-dasharray="3.4 1.5" stroke-dashoffset="1.6"/>
<line x1="312" y1="418" x2="333.6" y2="418" stroke="#c8324e" stroke-width="1.7" stroke-dasharray="3.4 1.5"/>
<path d="M412.90 361.60C413.10 361.60 413.33 362.35 413.50 362.80C413.67 363.25 413.67 363.88 413.90 364.30C414.13 364.72 414.55 364.98 414.90 365.30C415.25 365.62 415.58 365.83 416.00 366.20C416.42 366.57 417.08 367.07 417.40 367.50C417.72 367.93 417.93 368.38 417.90 368.80C417.87 369.22 417.55 369.63 417.20 370.00C416.85 370.37 416.25 370.63 415.80 371.00C415.35 371.37 414.27 371.75 414.50 372.20C414.73 372.65 416.08 373.20 417.20 373.70C418.32 374.20 420.33 374.70 421.20 375.20C422.07 375.70 421.95 376.08 422.40 376.70C422.85 377.32 423.38 378.32 423.90 378.90C424.42 379.48 425.13 379.82 425.50 380.20C425.87 380.58 426.20 380.87 426.10 381.20C426.00 381.53 425.53 381.88 424.90 382.20C424.27 382.52 423.38 382.78 422.30 383.10C421.22 383.42 419.50 383.80 418.40 384.10C417.30 384.40 416.43 384.50 415.70 384.90C414.97 385.30 414.47 385.87 414.00 386.50C413.53 387.13 413.27 388.70 412.90 388.70C412.53 388.70 412.27 387.13 411.80 386.50C411.33 385.87 410.83 385.30 410.10 384.90C409.37 384.50 408.50 384.40 407.40 384.10C406.30 383.80 404.58 383.42 403.50 383.10C402.42 382.78 401.53 382.52 400.90 382.20C400.27 381.88 399.80 381.53 399.70 381.20C399.60 380.87 399.93 380.58 400.30 380.20C400.67 379.82 401.38 379.48 401.90 378.90C402.42 378.32 402.95 377.32 403.40 376.70C403.85 376.08 403.73 375.70 404.60 375.20C405.47 374.70 407.48 374.20 408.60 373.70C409.72 373.20 411.07 372.65 411.30 372.20C411.53 371.75 410.45 371.37 410.00 371.00C409.55 370.63 408.95 370.37 408.60 370.00C408.25 369.63 407.93 369.22 407.90 368.80C407.87 368.38 408.08 367.93 408.40 367.50C408.72 367.07 409.38 366.57 409.80 366.20C410.22 365.83 410.55 365.62 410.90 365.30C411.25 364.98 411.67 364.72 411.90 364.30C412.13 363.88 412.13 363.25 412.30 362.80C412.47 362.35 412.70 361.60 412.90 361.60Z" fill="#ff0000" stroke="#ff0000" stroke-width="0.4" stroke-linejoin="round"/>
<path d="M453.10 356.60C453.33 356.60 453.62 357.77 453.80 358.50C453.98 359.23 454.02 360.17 454.20 361.00C454.38 361.83 454.67 362.57 454.90 363.50C455.13 364.43 455.57 365.58 455.60 366.60C455.63 367.62 455.30 368.75 455.10 369.60C454.90 370.45 454.55 371.03 454.40 371.70C454.25 372.37 454.22 372.80 454.20 373.60C454.18 374.40 454.23 375.40 454.30 376.50C454.37 377.60 454.38 379.28 454.60 380.20C454.82 381.12 455.22 381.45 455.60 382.00C455.98 382.55 456.40 382.83 456.90 383.50C457.40 384.17 458.03 385.02 458.60 386.00C459.17 386.98 459.73 388.53 460.30 389.40C460.87 390.27 461.45 390.65 462.00 391.20C462.55 391.75 463.05 392.10 463.60 392.70C464.15 393.30 464.90 394.17 465.30 394.80C465.70 395.43 466.12 395.88 466.00 396.50C465.88 397.12 465.15 397.90 464.60 398.50C464.05 399.10 463.07 399.55 462.70 400.10C462.33 400.65 462.30 401.23 462.40 401.80C462.50 402.37 463.05 402.95 463.30 403.50C463.55 404.05 464.07 404.47 463.90 405.10C463.73 405.73 463.05 406.60 462.30 407.30C461.55 408.00 460.30 408.68 459.40 409.30C458.50 409.92 457.58 410.45 456.90 411.00C456.22 411.55 455.70 411.78 455.30 412.60C454.90 413.42 454.53 414.92 454.50 415.90C454.47 416.88 454.92 417.53 455.10 418.50C455.28 419.47 455.60 420.70 455.60 421.70C455.60 422.70 455.32 423.53 455.10 424.50C454.88 425.47 454.52 426.65 454.30 427.50C454.08 428.35 454.00 428.90 453.80 429.60C453.60 430.30 453.33 431.70 453.10 431.70C452.87 431.70 452.60 430.30 452.40 429.60C452.20 428.90 452.12 428.35 451.90 427.50C451.68 426.65 451.32 425.47 451.10 424.50C450.88 423.53 450.60 422.70 450.60 421.70C450.60 420.70 450.92 419.47 451.10 418.50C451.28 417.53 451.73 416.88 451.70 415.90C451.67 414.92 451.30 413.42 450.90 412.60C450.50 411.78 449.98 411.55 449.30 411.00C448.62 410.45 447.70 409.92 446.80 409.30C445.90 408.68 444.65 408.00 443.90 407.30C443.15 406.60 442.47 405.73 442.30 405.10C442.13 404.47 442.65 404.05 442.90 403.50C443.15 402.95 443.70 402.37 443.80 401.80C443.90 401.23 443.87 400.65 443.50 400.10C443.13 399.55 442.15 399.10 441.60 398.50C441.05 397.90 440.32 397.12 440.20 396.50C440.08 395.88 440.50 395.43 440.90 394.80C441.30 394.17 442.05 393.30 442.60 392.70C443.15 392.10 443.65 391.75 444.20 391.20C444.75 390.65 445.33 390.27 445.90 389.40C446.47 388.53 447.03 386.98 447.60 386.00C448.17 385.02 448.80 384.17 449.30 383.50C449.80 382.83 450.22 382.55 450.60 382.00C450.98 381.45 451.38 381.12 451.60 380.20C451.82 379.28 451.83 377.60 451.90 376.50C451.97 375.40 452.02 374.40 452.00 373.60C451.98 372.80 451.95 372.37 451.80 371.70C451.65 371.03 451.30 370.45 451.10 369.60C450.90 368.75 450.57 367.62 450.60 366.60C450.63 365.58 451.07 364.43 451.30 363.50C451.53 362.57 451.82 361.83 452.00 361.00C452.18 360.17 452.22 359.23 452.40 358.50C452.58 357.77 452.87 356.60 453.10 356.60Z" fill="#ff0000" stroke="#ff0000" stroke-width="0.4" stroke-linejoin="round"/>
<line x1="404.4" y1="379.3" x2="421.2" y2="379.3" stroke="#4a14e0" stroke-width="1.6" stroke-dasharray="3.2 1.2"/>
<line x1="442.6" y1="397.8" x2="464" y2="397.8" stroke="#4a14e0" stroke-width="1.6" stroke-dasharray="3.2 1.2"/>
</svg>
</body></html>
